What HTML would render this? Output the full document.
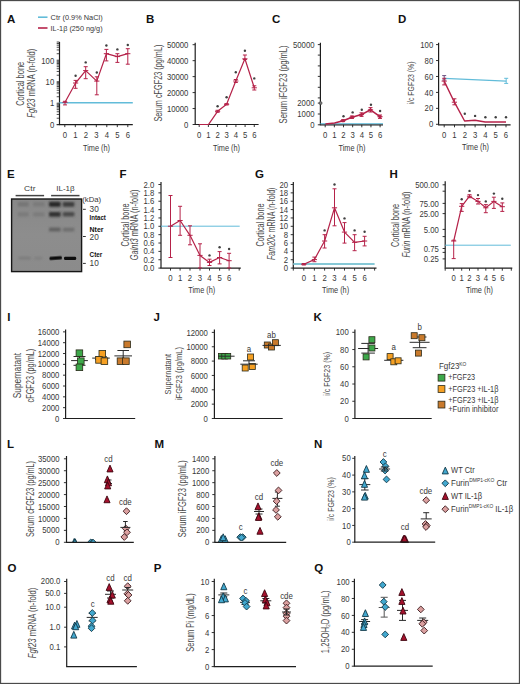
<!DOCTYPE html>
<html><head><meta charset="utf-8"><style>
html,body{margin:0;padding:0;background:#fff;}
svg{display:block;font-family:"Liberation Sans", sans-serif;}
</style></head><body>
<svg width="520" height="684" viewBox="0 0 520 684">
<rect x="0" y="0" width="520" height="684" fill="#fff"/>
<text transform="translate(7,22.5)" font-size="11.5" fill="#111" text-anchor="start" font-weight="bold">A</text>
<line x1="38" y1="17.2" x2="47.5" y2="17.2" stroke="#62bcd9" stroke-width="1.6" />
<line x1="38" y1="28" x2="47.5" y2="28" stroke="#b52249" stroke-width="1.6" />
<text transform="translate(50.6,19.9)" font-size="8" fill="#383838" text-anchor="start" textLength="52" lengthAdjust="spacingAndGlyphs">Ctr (0.9% NaCl)</text>
<text transform="translate(50.6,30.6)" font-size="8" fill="#383838" text-anchor="start" textLength="52" lengthAdjust="spacingAndGlyphs">IL-1β (250 ng/g)</text>
<line x1="59.5" y1="42" x2="59.5" y2="124.6" stroke="#1e1e1e" stroke-width="1.2" />
<line x1="56.7" y1="124.7" x2="59.5" y2="124.7" stroke="#1e1e1e" stroke-width="0.8" />
<line x1="56.7" y1="118.23" x2="59.5" y2="118.23" stroke="#1e1e1e" stroke-width="0.8" />
<line x1="56.7" y1="114.44" x2="59.5" y2="114.44" stroke="#1e1e1e" stroke-width="0.8" />
<line x1="56.7" y1="111.76" x2="59.5" y2="111.76" stroke="#1e1e1e" stroke-width="0.8" />
<line x1="56.7" y1="109.67" x2="59.5" y2="109.67" stroke="#1e1e1e" stroke-width="0.8" />
<line x1="56.7" y1="107.97" x2="59.5" y2="107.97" stroke="#1e1e1e" stroke-width="0.8" />
<line x1="56.7" y1="106.53" x2="59.5" y2="106.53" stroke="#1e1e1e" stroke-width="0.8" />
<line x1="56.7" y1="105.28" x2="59.5" y2="105.28" stroke="#1e1e1e" stroke-width="0.8" />
<line x1="56.7" y1="104.18" x2="59.5" y2="104.18" stroke="#1e1e1e" stroke-width="0.8" />
<line x1="56.7" y1="103.2" x2="59.5" y2="103.2" stroke="#1e1e1e" stroke-width="0.8" />
<line x1="56.7" y1="96.73" x2="59.5" y2="96.73" stroke="#1e1e1e" stroke-width="0.8" />
<line x1="56.7" y1="92.94" x2="59.5" y2="92.94" stroke="#1e1e1e" stroke-width="0.8" />
<line x1="56.7" y1="90.26" x2="59.5" y2="90.26" stroke="#1e1e1e" stroke-width="0.8" />
<line x1="56.7" y1="88.17" x2="59.5" y2="88.17" stroke="#1e1e1e" stroke-width="0.8" />
<line x1="56.7" y1="86.47" x2="59.5" y2="86.47" stroke="#1e1e1e" stroke-width="0.8" />
<line x1="56.7" y1="85.03" x2="59.5" y2="85.03" stroke="#1e1e1e" stroke-width="0.8" />
<line x1="56.7" y1="83.78" x2="59.5" y2="83.78" stroke="#1e1e1e" stroke-width="0.8" />
<line x1="56.7" y1="82.68" x2="59.5" y2="82.68" stroke="#1e1e1e" stroke-width="0.8" />
<line x1="56.7" y1="81.7" x2="59.5" y2="81.7" stroke="#1e1e1e" stroke-width="0.8" />
<line x1="56.7" y1="75.23" x2="59.5" y2="75.23" stroke="#1e1e1e" stroke-width="0.8" />
<line x1="56.7" y1="71.44" x2="59.5" y2="71.44" stroke="#1e1e1e" stroke-width="0.8" />
<line x1="56.7" y1="68.76" x2="59.5" y2="68.76" stroke="#1e1e1e" stroke-width="0.8" />
<line x1="56.7" y1="66.67" x2="59.5" y2="66.67" stroke="#1e1e1e" stroke-width="0.8" />
<line x1="56.7" y1="64.97" x2="59.5" y2="64.97" stroke="#1e1e1e" stroke-width="0.8" />
<line x1="56.7" y1="63.53" x2="59.5" y2="63.53" stroke="#1e1e1e" stroke-width="0.8" />
<line x1="56.7" y1="62.28" x2="59.5" y2="62.28" stroke="#1e1e1e" stroke-width="0.8" />
<line x1="56.7" y1="61.18" x2="59.5" y2="61.18" stroke="#1e1e1e" stroke-width="0.8" />
<line x1="56.7" y1="60.2" x2="59.5" y2="60.2" stroke="#1e1e1e" stroke-width="0.8" />
<line x1="56.7" y1="53.73" x2="59.5" y2="53.73" stroke="#1e1e1e" stroke-width="0.8" />
<line x1="56.7" y1="49.94" x2="59.5" y2="49.94" stroke="#1e1e1e" stroke-width="0.8" />
<line x1="56.7" y1="47.26" x2="59.5" y2="47.26" stroke="#1e1e1e" stroke-width="0.8" />
<line x1="56.7" y1="45.17" x2="59.5" y2="45.17" stroke="#1e1e1e" stroke-width="0.8" />
<line x1="56.7" y1="43.47" x2="59.5" y2="43.47" stroke="#1e1e1e" stroke-width="0.8" />
<line x1="56.7" y1="42.03" x2="59.5" y2="42.03" stroke="#1e1e1e" stroke-width="0.8" />
<line x1="56.7" y1="124.6" x2="59.5" y2="124.6" stroke="#1e1e1e" stroke-width="0.8" />
<text transform="translate(54.2,63.5) scale(0.9,1)" font-size="8.6" fill="#383838" text-anchor="end">100</text>
<text transform="translate(54.2,84.9) scale(0.9,1)" font-size="8.6" fill="#383838" text-anchor="end">10</text>
<text transform="translate(54.2,106.3) scale(0.9,1)" font-size="8.6" fill="#383838" text-anchor="end">1</text>
<text transform="translate(54.2,127.5) scale(0.9,1)" font-size="8.6" fill="#383838" text-anchor="end">0</text>
<line x1="58.9" y1="124.6" x2="132.8" y2="124.6" stroke="#1e1e1e" stroke-width="1.2" />
<line x1="64.8" y1="124.6" x2="64.8" y2="127.1" stroke="#1e1e1e" stroke-width="0.9" />
<text transform="translate(64.8,137.5) scale(0.9,1)" font-size="8.6" fill="#383838" text-anchor="middle">0</text>
<line x1="75.3" y1="124.6" x2="75.3" y2="127.1" stroke="#1e1e1e" stroke-width="0.9" />
<text transform="translate(75.3,137.5) scale(0.9,1)" font-size="8.6" fill="#383838" text-anchor="middle">1</text>
<line x1="85.8" y1="124.6" x2="85.8" y2="127.1" stroke="#1e1e1e" stroke-width="0.9" />
<text transform="translate(85.8,137.5) scale(0.9,1)" font-size="8.6" fill="#383838" text-anchor="middle">2</text>
<line x1="96.3" y1="124.6" x2="96.3" y2="127.1" stroke="#1e1e1e" stroke-width="0.9" />
<text transform="translate(96.3,137.5) scale(0.9,1)" font-size="8.6" fill="#383838" text-anchor="middle">3</text>
<line x1="106.8" y1="124.6" x2="106.8" y2="127.1" stroke="#1e1e1e" stroke-width="0.9" />
<text transform="translate(106.8,137.5) scale(0.9,1)" font-size="8.6" fill="#383838" text-anchor="middle">4</text>
<line x1="117.3" y1="124.6" x2="117.3" y2="127.1" stroke="#1e1e1e" stroke-width="0.9" />
<text transform="translate(117.3,137.5) scale(0.9,1)" font-size="8.6" fill="#383838" text-anchor="middle">5</text>
<line x1="127.8" y1="124.6" x2="127.8" y2="127.1" stroke="#1e1e1e" stroke-width="0.9" />
<text transform="translate(127.8,137.5) scale(0.9,1)" font-size="8.6" fill="#383838" text-anchor="middle">6</text>
<text transform="translate(96.5,150.8)" font-size="9.3" fill="#383838" text-anchor="middle" textLength="27" lengthAdjust="spacingAndGlyphs">Time (h)</text>
<line x1="59.5" y1="102.8" x2="132.8" y2="102.8" stroke="#62bcd9" stroke-width="1.5" />
<polyline points="65,102.3 75.6,83 85.7,70.6 96.8,81.1 106.4,53.7 117.4,56.6 127.8,53.7" fill="none" stroke="#b52249" stroke-width="1.2" stroke-linejoin="round"/>
<line x1="65" y1="101.3" x2="65" y2="104.9" stroke="#b52249" stroke-width="1" />
<line x1="62.4" y1="102.3" x2="67.6" y2="102.3" stroke="#b52249" stroke-width="1" />
<line x1="63" y1="101.3" x2="67" y2="101.3" stroke="#b52249" stroke-width="1" />
<line x1="63" y1="104.9" x2="67" y2="104.9" stroke="#b52249" stroke-width="1" />
<line x1="75.6" y1="80.4" x2="75.6" y2="88.3" stroke="#b52249" stroke-width="1" />
<line x1="73" y1="83" x2="78.2" y2="83" stroke="#b52249" stroke-width="1" />
<line x1="73.6" y1="80.4" x2="77.6" y2="80.4" stroke="#b52249" stroke-width="1" />
<line x1="73.6" y1="88.3" x2="77.6" y2="88.3" stroke="#b52249" stroke-width="1" />
<circle cx="75.6" cy="75.8" r="1.2" fill="#404040"/>
<line x1="85.7" y1="66.7" x2="85.7" y2="78.7" stroke="#b52249" stroke-width="1" />
<line x1="83.1" y1="70.6" x2="88.3" y2="70.6" stroke="#b52249" stroke-width="1" />
<line x1="83.7" y1="66.7" x2="87.7" y2="66.7" stroke="#b52249" stroke-width="1" />
<line x1="83.7" y1="78.7" x2="87.7" y2="78.7" stroke="#b52249" stroke-width="1" />
<circle cx="85.7" cy="62.4" r="1.2" fill="#404040"/>
<line x1="96.8" y1="76.8" x2="96.8" y2="94.8" stroke="#b52249" stroke-width="1" />
<line x1="94.2" y1="81.1" x2="99.4" y2="81.1" stroke="#b52249" stroke-width="1" />
<line x1="94.8" y1="76.8" x2="98.8" y2="76.8" stroke="#b52249" stroke-width="1" />
<line x1="94.8" y1="94.8" x2="98.8" y2="94.8" stroke="#b52249" stroke-width="1" />
<circle cx="96.8" cy="72.5" r="1.2" fill="#404040"/>
<line x1="106.4" y1="49.4" x2="106.4" y2="60.9" stroke="#b52249" stroke-width="1" />
<line x1="103.8" y1="53.7" x2="109" y2="53.7" stroke="#b52249" stroke-width="1" />
<line x1="104.4" y1="49.4" x2="108.4" y2="49.4" stroke="#b52249" stroke-width="1" />
<line x1="104.4" y1="60.9" x2="108.4" y2="60.9" stroke="#b52249" stroke-width="1" />
<circle cx="106.4" cy="45.5" r="1.2" fill="#404040"/>
<line x1="117.4" y1="53.7" x2="117.4" y2="62.4" stroke="#b52249" stroke-width="1" />
<line x1="114.8" y1="56.6" x2="120" y2="56.6" stroke="#b52249" stroke-width="1" />
<line x1="115.4" y1="53.7" x2="119.4" y2="53.7" stroke="#b52249" stroke-width="1" />
<line x1="115.4" y1="62.4" x2="119.4" y2="62.4" stroke="#b52249" stroke-width="1" />
<circle cx="117.4" cy="49.4" r="1.2" fill="#404040"/>
<line x1="127.8" y1="48.7" x2="127.8" y2="64.2" stroke="#b52249" stroke-width="1" />
<line x1="125.2" y1="53.7" x2="130.4" y2="53.7" stroke="#b52249" stroke-width="1" />
<line x1="125.8" y1="48.7" x2="129.8" y2="48.7" stroke="#b52249" stroke-width="1" />
<line x1="125.8" y1="64.2" x2="129.8" y2="64.2" stroke="#b52249" stroke-width="1" />
<circle cx="127.8" cy="45" r="1.2" fill="#404040"/>
<text transform="translate(23.9,83.8) rotate(-90)" font-size="10.3" fill="#4a4a4a" text-anchor="middle" textLength="44" lengthAdjust="spacingAndGlyphs">Cortical bone</text>
<text transform="translate(34.5,83.2) rotate(-90)" font-size="10.3" fill="#4a4a4a" text-anchor="middle" textLength="69" lengthAdjust="spacingAndGlyphs"><tspan font-style="italic">Fgf23</tspan> mRNA (n-fold)</text>
<text transform="translate(146,22.5)" font-size="11.5" fill="#111" text-anchor="start" font-weight="bold">B</text>
<line x1="195.2" y1="42.7" x2="195.2" y2="124.5" stroke="#1e1e1e" stroke-width="1.2" />
<line x1="192.6" y1="124.5" x2="195.2" y2="124.5" stroke="#1e1e1e" stroke-width="0.9" />
<text transform="translate(188.4,127.6) scale(0.9,1)" font-size="8.6" fill="#383838" text-anchor="end">0</text>
<line x1="192.6" y1="108.54" x2="195.2" y2="108.54" stroke="#1e1e1e" stroke-width="0.9" />
<text transform="translate(188.4,111.64) scale(0.9,1)" font-size="8.6" fill="#383838" text-anchor="end">10000</text>
<line x1="192.6" y1="92.58" x2="195.2" y2="92.58" stroke="#1e1e1e" stroke-width="0.9" />
<text transform="translate(188.4,95.68) scale(0.9,1)" font-size="8.6" fill="#383838" text-anchor="end">20000</text>
<line x1="192.6" y1="76.62" x2="195.2" y2="76.62" stroke="#1e1e1e" stroke-width="0.9" />
<text transform="translate(188.4,79.72) scale(0.9,1)" font-size="8.6" fill="#383838" text-anchor="end">30000</text>
<line x1="192.6" y1="60.66" x2="195.2" y2="60.66" stroke="#1e1e1e" stroke-width="0.9" />
<text transform="translate(188.4,63.76) scale(0.9,1)" font-size="8.6" fill="#383838" text-anchor="end">40000</text>
<line x1="192.6" y1="44.7" x2="195.2" y2="44.7" stroke="#1e1e1e" stroke-width="0.9" />
<text transform="translate(188.4,47.8) scale(0.9,1)" font-size="8.6" fill="#383838" text-anchor="end">50000</text>
<line x1="194.6" y1="124.5" x2="258.6" y2="124.5" stroke="#1e1e1e" stroke-width="1.2" />
<line x1="199.2" y1="124.5" x2="199.2" y2="127" stroke="#1e1e1e" stroke-width="0.9" />
<text transform="translate(199.2,137.7) scale(0.9,1)" font-size="8.6" fill="#383838" text-anchor="middle">0</text>
<line x1="208.38" y1="124.5" x2="208.38" y2="127" stroke="#1e1e1e" stroke-width="0.9" />
<text transform="translate(208.38,137.7) scale(0.9,1)" font-size="8.6" fill="#383838" text-anchor="middle">1</text>
<line x1="217.56" y1="124.5" x2="217.56" y2="127" stroke="#1e1e1e" stroke-width="0.9" />
<text transform="translate(217.56,137.7) scale(0.9,1)" font-size="8.6" fill="#383838" text-anchor="middle">2</text>
<line x1="226.74" y1="124.5" x2="226.74" y2="127" stroke="#1e1e1e" stroke-width="0.9" />
<text transform="translate(226.74,137.7) scale(0.9,1)" font-size="8.6" fill="#383838" text-anchor="middle">3</text>
<line x1="235.92" y1="124.5" x2="235.92" y2="127" stroke="#1e1e1e" stroke-width="0.9" />
<text transform="translate(235.92,137.7) scale(0.9,1)" font-size="8.6" fill="#383838" text-anchor="middle">4</text>
<line x1="245.1" y1="124.5" x2="245.1" y2="127" stroke="#1e1e1e" stroke-width="0.9" />
<text transform="translate(245.1,137.7) scale(0.9,1)" font-size="8.6" fill="#383838" text-anchor="middle">5</text>
<line x1="254.28" y1="124.5" x2="254.28" y2="127" stroke="#1e1e1e" stroke-width="0.9" />
<text transform="translate(254.28,137.7) scale(0.9,1)" font-size="8.6" fill="#383838" text-anchor="middle">6</text>
<text transform="translate(226.5,150.8)" font-size="9.3" fill="#383838" text-anchor="middle" textLength="27" lengthAdjust="spacingAndGlyphs">Time (h)</text>
<polyline points="199.2,124.5 208.6,124.3 217.6,111.3 226.6,104.3 235.8,81 244.9,58.8 254.3,87.8" fill="none" stroke="#b52249" stroke-width="1.2" stroke-linejoin="round"/>
<line x1="217.6" y1="110.3" x2="217.6" y2="112.3" stroke="#b52249" stroke-width="1" />
<line x1="215" y1="111.3" x2="220.2" y2="111.3" stroke="#b52249" stroke-width="1" />
<line x1="215.6" y1="110.3" x2="219.6" y2="110.3" stroke="#b52249" stroke-width="1" />
<line x1="215.6" y1="112.3" x2="219.6" y2="112.3" stroke="#b52249" stroke-width="1" />
<circle cx="217.6" cy="106.2" r="1.2" fill="#404040"/>
<line x1="226.6" y1="103.6" x2="226.6" y2="105" stroke="#b52249" stroke-width="1" />
<line x1="224" y1="104.3" x2="229.2" y2="104.3" stroke="#b52249" stroke-width="1" />
<line x1="224.6" y1="103.6" x2="228.6" y2="103.6" stroke="#b52249" stroke-width="1" />
<line x1="224.6" y1="105" x2="228.6" y2="105" stroke="#b52249" stroke-width="1" />
<circle cx="226.6" cy="97.2" r="1.2" fill="#404040"/>
<line x1="235.8" y1="79.5" x2="235.8" y2="82.5" stroke="#b52249" stroke-width="1" />
<line x1="233.2" y1="81" x2="238.4" y2="81" stroke="#b52249" stroke-width="1" />
<line x1="233.8" y1="79.5" x2="237.8" y2="79.5" stroke="#b52249" stroke-width="1" />
<line x1="233.8" y1="82.5" x2="237.8" y2="82.5" stroke="#b52249" stroke-width="1" />
<circle cx="235.8" cy="72.3" r="1.2" fill="#404040"/>
<line x1="244.9" y1="55" x2="244.9" y2="59.5" stroke="#b52249" stroke-width="1" />
<line x1="242.3" y1="58.8" x2="247.5" y2="58.8" stroke="#b52249" stroke-width="1" />
<line x1="242.9" y1="55" x2="246.9" y2="55" stroke="#b52249" stroke-width="1" />
<line x1="242.9" y1="59.5" x2="246.9" y2="59.5" stroke="#b52249" stroke-width="1" />
<circle cx="244.9" cy="50.8" r="1.2" fill="#404040"/>
<line x1="254.3" y1="85.8" x2="254.3" y2="90" stroke="#b52249" stroke-width="1" />
<line x1="251.7" y1="87.8" x2="256.9" y2="87.8" stroke="#b52249" stroke-width="1" />
<line x1="252.3" y1="85.8" x2="256.3" y2="85.8" stroke="#b52249" stroke-width="1" />
<line x1="252.3" y1="90" x2="256.3" y2="90" stroke="#b52249" stroke-width="1" />
<circle cx="254.3" cy="78.4" r="1.2" fill="#404040"/>
<text transform="translate(161.5,83.1) rotate(-90)" font-size="10.3" fill="#4a4a4a" text-anchor="middle" textLength="77" lengthAdjust="spacingAndGlyphs">Serum cFGF23 (pg/mL)</text>
<text transform="translate(272,22.5)" font-size="11.5" fill="#111" text-anchor="start" font-weight="bold">C</text>
<line x1="320.4" y1="42.7" x2="320.4" y2="124.8" stroke="#1e1e1e" stroke-width="1.2" />
<line x1="317.8" y1="44.6" x2="320.4" y2="44.6" stroke="#1e1e1e" stroke-width="0.9" />
<line x1="317.8" y1="55.1" x2="320.4" y2="55.1" stroke="#1e1e1e" stroke-width="0.9" />
<line x1="317.8" y1="65.9" x2="320.4" y2="65.9" stroke="#1e1e1e" stroke-width="0.9" />
<line x1="317.8" y1="76.4" x2="320.4" y2="76.4" stroke="#1e1e1e" stroke-width="0.9" />
<line x1="317.8" y1="87.3" x2="320.4" y2="87.3" stroke="#1e1e1e" stroke-width="0.9" />
<line x1="317.8" y1="97.9" x2="320.4" y2="97.9" stroke="#1e1e1e" stroke-width="0.9" />
<line x1="317.8" y1="103.1" x2="320.4" y2="103.1" stroke="#1e1e1e" stroke-width="0.9" />
<line x1="317.8" y1="114" x2="320.4" y2="114" stroke="#1e1e1e" stroke-width="0.9" />
<line x1="317.8" y1="124.8" x2="320.4" y2="124.8" stroke="#1e1e1e" stroke-width="0.9" />
<text transform="translate(314.5,47.7) scale(0.9,1)" font-size="8.6" fill="#383838" text-anchor="end">50000</text>
<text transform="translate(314.5,106.2) scale(0.9,1)" font-size="8.6" fill="#383838" text-anchor="end">2000</text>
<text transform="translate(314.5,117.1) scale(0.9,1)" font-size="8.6" fill="#383838" text-anchor="end">1000</text>
<text transform="translate(314.5,127.9) scale(0.9,1)" font-size="8.6" fill="#383838" text-anchor="end">0</text>
<circle cx="320.6" cy="103.1" r="1.5" fill="#777" stroke="#444" stroke-width="0.6"/>
<line x1="319.8" y1="124.8" x2="383" y2="124.8" stroke="#1e1e1e" stroke-width="1.2" />
<line x1="320.4" y1="123.7" x2="383" y2="123.7" stroke="#62bcd9" stroke-width="1" />
<line x1="325.2" y1="124.8" x2="325.2" y2="127.3" stroke="#1e1e1e" stroke-width="0.9" />
<text transform="translate(325.2,137.7) scale(0.9,1)" font-size="8.6" fill="#383838" text-anchor="middle">0</text>
<line x1="334.35" y1="124.8" x2="334.35" y2="127.3" stroke="#1e1e1e" stroke-width="0.9" />
<text transform="translate(334.35,137.7) scale(0.9,1)" font-size="8.6" fill="#383838" text-anchor="middle">1</text>
<line x1="343.5" y1="124.8" x2="343.5" y2="127.3" stroke="#1e1e1e" stroke-width="0.9" />
<text transform="translate(343.5,137.7) scale(0.9,1)" font-size="8.6" fill="#383838" text-anchor="middle">2</text>
<line x1="352.65" y1="124.8" x2="352.65" y2="127.3" stroke="#1e1e1e" stroke-width="0.9" />
<text transform="translate(352.65,137.7) scale(0.9,1)" font-size="8.6" fill="#383838" text-anchor="middle">3</text>
<line x1="361.8" y1="124.8" x2="361.8" y2="127.3" stroke="#1e1e1e" stroke-width="0.9" />
<text transform="translate(361.8,137.7) scale(0.9,1)" font-size="8.6" fill="#383838" text-anchor="middle">4</text>
<line x1="370.95" y1="124.8" x2="370.95" y2="127.3" stroke="#1e1e1e" stroke-width="0.9" />
<text transform="translate(370.95,137.7) scale(0.9,1)" font-size="8.6" fill="#383838" text-anchor="middle">5</text>
<line x1="380.1" y1="124.8" x2="380.1" y2="127.3" stroke="#1e1e1e" stroke-width="0.9" />
<text transform="translate(380.1,137.7) scale(0.9,1)" font-size="8.6" fill="#383838" text-anchor="middle">6</text>
<text transform="translate(352,150.8)" font-size="9.3" fill="#383838" text-anchor="middle" textLength="27" lengthAdjust="spacingAndGlyphs">Time (h)</text>
<polyline points="325.4,124 334.6,123 343,120.7 352,117.2 361.5,114.6 370.5,109.8 380,116.7" fill="none" stroke="#b52249" stroke-width="1.6" stroke-linejoin="round"/>
<line x1="343" y1="119.8" x2="343" y2="121.6" stroke="#b52249" stroke-width="1" />
<line x1="340.4" y1="120.7" x2="345.6" y2="120.7" stroke="#b52249" stroke-width="1" />
<line x1="341" y1="119.8" x2="345" y2="119.8" stroke="#b52249" stroke-width="1" />
<line x1="341" y1="121.6" x2="345" y2="121.6" stroke="#b52249" stroke-width="1" />
<circle cx="343" cy="120.7" r="1.6" fill="#b52249"/>
<line x1="352" y1="116" x2="352" y2="118.4" stroke="#b52249" stroke-width="1" />
<line x1="349.4" y1="117.2" x2="354.6" y2="117.2" stroke="#b52249" stroke-width="1" />
<line x1="350" y1="116" x2="354" y2="116" stroke="#b52249" stroke-width="1" />
<line x1="350" y1="118.4" x2="354" y2="118.4" stroke="#b52249" stroke-width="1" />
<circle cx="352" cy="117.2" r="1.6" fill="#b52249"/>
<line x1="361.5" y1="112.8" x2="361.5" y2="116.4" stroke="#b52249" stroke-width="1" />
<line x1="358.9" y1="114.6" x2="364.1" y2="114.6" stroke="#b52249" stroke-width="1" />
<line x1="359.5" y1="112.8" x2="363.5" y2="112.8" stroke="#b52249" stroke-width="1" />
<line x1="359.5" y1="116.4" x2="363.5" y2="116.4" stroke="#b52249" stroke-width="1" />
<circle cx="361.5" cy="114.6" r="1.6" fill="#b52249"/>
<line x1="370.5" y1="107.6" x2="370.5" y2="112" stroke="#b52249" stroke-width="1" />
<line x1="367.9" y1="109.8" x2="373.1" y2="109.8" stroke="#b52249" stroke-width="1" />
<line x1="368.5" y1="107.6" x2="372.5" y2="107.6" stroke="#b52249" stroke-width="1" />
<line x1="368.5" y1="112" x2="372.5" y2="112" stroke="#b52249" stroke-width="1" />
<circle cx="370.5" cy="109.8" r="1.6" fill="#b52249"/>
<line x1="380" y1="115" x2="380" y2="118.4" stroke="#b52249" stroke-width="1" />
<line x1="377.4" y1="116.7" x2="382.6" y2="116.7" stroke="#b52249" stroke-width="1" />
<line x1="378" y1="115" x2="382" y2="115" stroke="#b52249" stroke-width="1" />
<line x1="378" y1="118.4" x2="382" y2="118.4" stroke="#b52249" stroke-width="1" />
<circle cx="380" cy="116.7" r="1.6" fill="#b52249"/>
<circle cx="343.5" cy="116.3" r="1.2" fill="#404040"/>
<circle cx="352.65" cy="112.4" r="1.2" fill="#404040"/>
<circle cx="361.8" cy="109.8" r="1.2" fill="#404040"/>
<circle cx="370.95" cy="104.7" r="1.2" fill="#404040"/>
<circle cx="380.1" cy="111" r="1.2" fill="#404040"/>
<text transform="translate(287.2,84.4) rotate(-90)" font-size="10.3" fill="#4a4a4a" text-anchor="middle" textLength="78" lengthAdjust="spacingAndGlyphs">Serum iFGF23 (pg/mL)</text>
<text transform="translate(398,22.5)" font-size="11.5" fill="#111" text-anchor="start" font-weight="bold">D</text>
<line x1="438.6" y1="42.7" x2="438.6" y2="124.8" stroke="#1e1e1e" stroke-width="1.2" />
<line x1="436" y1="124.3" x2="438.6" y2="124.3" stroke="#1e1e1e" stroke-width="0.9" />
<text transform="translate(433.2,127.4) scale(0.9,1)" font-size="8.6" fill="#383838" text-anchor="end">0</text>
<line x1="436" y1="108.36" x2="438.6" y2="108.36" stroke="#1e1e1e" stroke-width="0.9" />
<text transform="translate(433.2,111.46) scale(0.9,1)" font-size="8.6" fill="#383838" text-anchor="end">20</text>
<line x1="436" y1="92.42" x2="438.6" y2="92.42" stroke="#1e1e1e" stroke-width="0.9" />
<text transform="translate(433.2,95.52) scale(0.9,1)" font-size="8.6" fill="#383838" text-anchor="end">40</text>
<line x1="436" y1="76.48" x2="438.6" y2="76.48" stroke="#1e1e1e" stroke-width="0.9" />
<text transform="translate(433.2,79.58) scale(0.9,1)" font-size="8.6" fill="#383838" text-anchor="end">60</text>
<line x1="436" y1="60.54" x2="438.6" y2="60.54" stroke="#1e1e1e" stroke-width="0.9" />
<text transform="translate(433.2,63.64) scale(0.9,1)" font-size="8.6" fill="#383838" text-anchor="end">80</text>
<line x1="436" y1="44.6" x2="438.6" y2="44.6" stroke="#1e1e1e" stroke-width="0.9" />
<text transform="translate(433.2,47.7) scale(0.9,1)" font-size="8.6" fill="#383838" text-anchor="end">100</text>
<line x1="438" y1="124.8" x2="510.6" y2="124.8" stroke="#1e1e1e" stroke-width="1.2" />
<line x1="444.2" y1="124.8" x2="444.2" y2="127.3" stroke="#1e1e1e" stroke-width="0.9" />
<text transform="translate(444.2,138) scale(0.9,1)" font-size="8.6" fill="#383838" text-anchor="middle">0</text>
<line x1="454.5" y1="124.8" x2="454.5" y2="127.3" stroke="#1e1e1e" stroke-width="0.9" />
<text transform="translate(454.5,138) scale(0.9,1)" font-size="8.6" fill="#383838" text-anchor="middle">1</text>
<line x1="464.8" y1="124.8" x2="464.8" y2="127.3" stroke="#1e1e1e" stroke-width="0.9" />
<text transform="translate(464.8,138) scale(0.9,1)" font-size="8.6" fill="#383838" text-anchor="middle">2</text>
<line x1="475.1" y1="124.8" x2="475.1" y2="127.3" stroke="#1e1e1e" stroke-width="0.9" />
<text transform="translate(475.1,138) scale(0.9,1)" font-size="8.6" fill="#383838" text-anchor="middle">3</text>
<line x1="485.4" y1="124.8" x2="485.4" y2="127.3" stroke="#1e1e1e" stroke-width="0.9" />
<text transform="translate(485.4,138) scale(0.9,1)" font-size="8.6" fill="#383838" text-anchor="middle">4</text>
<line x1="495.7" y1="124.8" x2="495.7" y2="127.3" stroke="#1e1e1e" stroke-width="0.9" />
<text transform="translate(495.7,138) scale(0.9,1)" font-size="8.6" fill="#383838" text-anchor="middle">5</text>
<line x1="506" y1="124.8" x2="506" y2="127.3" stroke="#1e1e1e" stroke-width="0.9" />
<text transform="translate(506,138) scale(0.9,1)" font-size="8.6" fill="#383838" text-anchor="middle">6</text>
<text transform="translate(475.5,150.2)" font-size="9.3" fill="#383838" text-anchor="middle" textLength="27" lengthAdjust="spacingAndGlyphs">Time (h)</text>
<line x1="444.2" y1="78.3" x2="506.2" y2="81.1" stroke="#62bcd9" stroke-width="1.2" />
<line x1="444.2" y1="75.6" x2="444.2" y2="80" stroke="#6a4f80" stroke-width="1" />
<line x1="442.2" y1="75.6" x2="446.2" y2="75.6" stroke="#6a4f80" stroke-width="1" />
<line x1="442.2" y1="80" x2="446.2" y2="80" stroke="#6a4f80" stroke-width="1" />
<line x1="506.2" y1="78.3" x2="506.2" y2="83.4" stroke="#62bcd9" stroke-width="1" />
<line x1="504.2" y1="78.3" x2="508.2" y2="78.3" stroke="#62bcd9" stroke-width="1" />
<line x1="504.2" y1="83.4" x2="508.2" y2="83.4" stroke="#62bcd9" stroke-width="1" />
<polyline points="444.2,81.1 454.4,102.2 464.6,121 475,120.3 485.2,122 495.5,122 506,122" fill="none" stroke="#b52249" stroke-width="1.4" stroke-linejoin="round"/>
<line x1="444.2" y1="78.3" x2="444.2" y2="84.9" stroke="#b52249" stroke-width="1" />
<line x1="441.6" y1="81.1" x2="446.8" y2="81.1" stroke="#b52249" stroke-width="1" />
<line x1="442.2" y1="78.3" x2="446.2" y2="78.3" stroke="#b52249" stroke-width="1" />
<line x1="442.2" y1="84.9" x2="446.2" y2="84.9" stroke="#b52249" stroke-width="1" />
<line x1="454.4" y1="98.8" x2="454.4" y2="104.8" stroke="#b52249" stroke-width="1" />
<line x1="451.8" y1="102.2" x2="457" y2="102.2" stroke="#b52249" stroke-width="1" />
<line x1="452.4" y1="98.8" x2="456.4" y2="98.8" stroke="#b52249" stroke-width="1" />
<line x1="452.4" y1="104.8" x2="456.4" y2="104.8" stroke="#b52249" stroke-width="1" />
<circle cx="464.8" cy="113.7" r="1.2" fill="#404040"/>
<circle cx="475.1" cy="115.9" r="1.2" fill="#404040"/>
<circle cx="485.4" cy="117.2" r="1.2" fill="#404040"/>
<circle cx="495.7" cy="117.2" r="1.2" fill="#404040"/>
<circle cx="506" cy="117.2" r="1.2" fill="#404040"/>
<text transform="translate(413.7,83) rotate(-90)" font-size="8.8" fill="#4a4a4a" text-anchor="middle" textLength="43" lengthAdjust="spacingAndGlyphs">i/c FGF23 (%)</text>
<text transform="translate(7,177.5)" font-size="11.5" fill="#111" text-anchor="start" font-weight="bold">E</text>
<text transform="translate(29.8,191.2)" font-size="7.9" fill="#3a3a3a" text-anchor="middle" textLength="11.4" lengthAdjust="spacingAndGlyphs">Ctr</text>
<text transform="translate(65.4,191.2)" font-size="7.9" fill="#3a3a3a" text-anchor="middle" textLength="18.4" lengthAdjust="spacingAndGlyphs">IL-1β</text>
<line x1="15.6" y1="195.6" x2="44.1" y2="195.6" stroke="#444" stroke-width="1.5" />
<line x1="51.1" y1="195.6" x2="79.5" y2="195.6" stroke="#444" stroke-width="1.5" />
<defs><filter id="bl" x="-30%" y="-100%" width="160%" height="300%"><feGaussianBlur stdDeviation="0.9"/></filter><filter id="bl2" x="-30%" y="-30%" width="160%" height="160%"><feGaussianBlur stdDeviation="2.5"/></filter><linearGradient id="gb" x1="0" y1="0" x2="0" y2="1"><stop offset="0" stop-color="#888888"/><stop offset="0.5" stop-color="#8d8d8d"/><stop offset="1" stop-color="#8b8b8b"/></linearGradient></defs>
<rect x="11.6" y="199" width="69.4" height="72.6" fill="url(#gb)"/>
<rect x="11.6" y="199" width="70" height="72.6" fill="none" stroke="#161616" stroke-width="1.4"/>
<defs><filter id="b8" x="-50%" y="-100%" width="200%" height="300%"><feGaussianBlur stdDeviation="0.8"/></filter><filter id="b12" x="-50%" y="-100%" width="200%" height="300%"><feGaussianBlur stdDeviation="1.2"/></filter><filter id="b6" x="-50%" y="-100%" width="200%" height="300%"><feGaussianBlur stdDeviation="0.6"/></filter></defs>
<rect x="17.8" y="202" width="10.9" height="4.6" rx="1.2" fill="#767676" filter="url(#b12)"/>
<rect x="33" y="202" width="11.6" height="4.6" rx="1.2" fill="#7a7a7a" filter="url(#b12)"/>
<rect x="49" y="201.8" width="11.6" height="5" rx="1.2" fill="#262626" filter="url(#b8)"/>
<rect x="62.8" y="201.9" width="11.6" height="4.8" rx="1.2" fill="#3c3c3c" filter="url(#b8)"/>
<rect x="17.8" y="212.2" width="10.9" height="4.2" rx="1.2" fill="#7a7a7a" filter="url(#b12)"/>
<rect x="33" y="212.2" width="11.6" height="4.2" rx="1.2" fill="#7c7c7c" filter="url(#b12)"/>
<rect x="49" y="211.9" width="11.6" height="4.8" rx="1.2" fill="#303030" filter="url(#b8)"/>
<rect x="62.8" y="212.1" width="11.6" height="4.4" rx="1.2" fill="#4c4c4c" filter="url(#b8)"/>
<rect x="49" y="227.6" width="11.6" height="4" rx="1.2" fill="#626262" filter="url(#b12)"/>
<rect x="62.8" y="227.7" width="11.6" height="3.8" rx="1.2" fill="#6e6e6e" filter="url(#b12)"/>
<rect x="18.3" y="256.8" width="12.5" height="2.8" rx="1.2" fill="#7c7c7c" filter="url(#b12)"/>
<rect x="34.2" y="256.8" width="8.3" height="2.8" rx="1.2" fill="#808080" filter="url(#b12)"/>
<rect x="49.5" y="256.5" width="12.4" height="3.2" rx="1.2" fill="#0c0c0c" filter="url(#b6)" transform="rotate(-4 55.7 258.1)"/>
<rect x="64" y="256.8" width="12.2" height="3.2" rx="1.2" fill="#101010" filter="url(#b6)"/>
<text transform="translate(82.2,202.2)" font-size="7.8" fill="#383838" text-anchor="start" textLength="19" lengthAdjust="spacingAndGlyphs">(kDa)</text>
<line x1="83" y1="209.3" x2="85.8" y2="209.3" stroke="#333" stroke-width="1" />
<text transform="translate(89.6,212.3) scale(0.96,1)" font-size="8.6" fill="#383838" text-anchor="start">30</text>
<line x1="83" y1="236.5" x2="85.8" y2="236.5" stroke="#333" stroke-width="1" />
<text transform="translate(89.6,239.5) scale(0.96,1)" font-size="8.6" fill="#383838" text-anchor="start">20</text>
<line x1="83" y1="263.4" x2="85.8" y2="263.4" stroke="#333" stroke-width="1" />
<text transform="translate(89.6,266.4) scale(0.96,1)" font-size="8.6" fill="#383838" text-anchor="start">10</text>
<text transform="translate(89.6,219.8)" font-size="6.4" fill="#111" text-anchor="start" font-weight="bold" textLength="16.2" lengthAdjust="spacingAndGlyphs">Intact</text>
<text transform="translate(89.6,231.9)" font-size="6.4" fill="#111" text-anchor="start" font-weight="bold" textLength="13.9" lengthAdjust="spacingAndGlyphs">Nter</text>
<text transform="translate(89.6,257.4)" font-size="6.4" fill="#111" text-anchor="start" font-weight="bold" textLength="12.7" lengthAdjust="spacingAndGlyphs">Cter</text>
<text transform="translate(119.5,177.5)" font-size="11.5" fill="#111" text-anchor="start" font-weight="bold">F</text>
<line x1="161" y1="182" x2="161" y2="268.1" stroke="#1e1e1e" stroke-width="1.2" />
<line x1="158.4" y1="268.1" x2="161" y2="268.1" stroke="#1e1e1e" stroke-width="0.9" />
<text transform="translate(154.3,271.2) scale(0.9,1)" font-size="8.6" fill="#383838" text-anchor="end">0.0</text>
<line x1="158.4" y1="259.74" x2="161" y2="259.74" stroke="#1e1e1e" stroke-width="0.9" />
<text transform="translate(154.3,262.84) scale(0.9,1)" font-size="8.6" fill="#383838" text-anchor="end">0.2</text>
<line x1="158.4" y1="251.38" x2="161" y2="251.38" stroke="#1e1e1e" stroke-width="0.9" />
<text transform="translate(154.3,254.48) scale(0.9,1)" font-size="8.6" fill="#383838" text-anchor="end">0.4</text>
<line x1="158.4" y1="243.02" x2="161" y2="243.02" stroke="#1e1e1e" stroke-width="0.9" />
<text transform="translate(154.3,246.12) scale(0.9,1)" font-size="8.6" fill="#383838" text-anchor="end">0.6</text>
<line x1="158.4" y1="234.66" x2="161" y2="234.66" stroke="#1e1e1e" stroke-width="0.9" />
<text transform="translate(154.3,237.76) scale(0.9,1)" font-size="8.6" fill="#383838" text-anchor="end">0.8</text>
<line x1="158.4" y1="226.3" x2="161" y2="226.3" stroke="#1e1e1e" stroke-width="0.9" />
<text transform="translate(154.3,229.4) scale(0.9,1)" font-size="8.6" fill="#383838" text-anchor="end">1.0</text>
<line x1="158.4" y1="217.94" x2="161" y2="217.94" stroke="#1e1e1e" stroke-width="0.9" />
<text transform="translate(154.3,221.04) scale(0.9,1)" font-size="8.6" fill="#383838" text-anchor="end">1.2</text>
<line x1="158.4" y1="209.58" x2="161" y2="209.58" stroke="#1e1e1e" stroke-width="0.9" />
<text transform="translate(154.3,212.68) scale(0.9,1)" font-size="8.6" fill="#383838" text-anchor="end">1.4</text>
<line x1="158.4" y1="201.22" x2="161" y2="201.22" stroke="#1e1e1e" stroke-width="0.9" />
<text transform="translate(154.3,204.32) scale(0.9,1)" font-size="8.6" fill="#383838" text-anchor="end">1.6</text>
<line x1="158.4" y1="192.86" x2="161" y2="192.86" stroke="#1e1e1e" stroke-width="0.9" />
<text transform="translate(154.3,195.96) scale(0.9,1)" font-size="8.6" fill="#383838" text-anchor="end">1.8</text>
<line x1="158.4" y1="184.5" x2="161" y2="184.5" stroke="#1e1e1e" stroke-width="0.9" />
<text transform="translate(154.3,187.6) scale(0.9,1)" font-size="8.6" fill="#383838" text-anchor="end">2.0</text>
<line x1="160.4" y1="268.1" x2="240.8" y2="268.1" stroke="#1e1e1e" stroke-width="1.2" />
<line x1="239.2" y1="268.1" x2="239.2" y2="270.6" stroke="#1e1e1e" stroke-width="0.9" />
<line x1="170.5" y1="268.1" x2="170.5" y2="270.6" stroke="#1e1e1e" stroke-width="0.9" />
<text transform="translate(170.5,280.9) scale(0.9,1)" font-size="8.6" fill="#383838" text-anchor="middle">0</text>
<line x1="180.1" y1="268.1" x2="180.1" y2="270.6" stroke="#1e1e1e" stroke-width="0.9" />
<text transform="translate(180.1,280.9) scale(0.9,1)" font-size="8.6" fill="#383838" text-anchor="middle">1</text>
<line x1="190" y1="268.1" x2="190" y2="270.6" stroke="#1e1e1e" stroke-width="0.9" />
<text transform="translate(190,280.9) scale(0.9,1)" font-size="8.6" fill="#383838" text-anchor="middle">2</text>
<line x1="200" y1="268.1" x2="200" y2="270.6" stroke="#1e1e1e" stroke-width="0.9" />
<text transform="translate(200,280.9) scale(0.9,1)" font-size="8.6" fill="#383838" text-anchor="middle">3</text>
<line x1="209.5" y1="268.1" x2="209.5" y2="270.6" stroke="#1e1e1e" stroke-width="0.9" />
<text transform="translate(209.5,280.9) scale(0.9,1)" font-size="8.6" fill="#383838" text-anchor="middle">4</text>
<line x1="219.6" y1="268.1" x2="219.6" y2="270.6" stroke="#1e1e1e" stroke-width="0.9" />
<text transform="translate(219.6,280.9) scale(0.9,1)" font-size="8.6" fill="#383838" text-anchor="middle">5</text>
<line x1="229.1" y1="268.1" x2="229.1" y2="270.6" stroke="#1e1e1e" stroke-width="0.9" />
<text transform="translate(229.1,280.9) scale(0.9,1)" font-size="8.6" fill="#383838" text-anchor="middle">6</text>
<text transform="translate(201.7,293.2)" font-size="9.3" fill="#383838" text-anchor="middle" textLength="27" lengthAdjust="spacingAndGlyphs">Time (h)</text>
<line x1="161" y1="226.2" x2="239.7" y2="226.2" stroke="#62bcd9" stroke-width="1" />
<polyline points="170.5,226.2 180.1,220.5 190,235.3 200,255.4 209.5,262.4 219.6,257.5 229.1,260.7" fill="none" stroke="#b52249" stroke-width="1.2" stroke-linejoin="round"/>
<line x1="170.5" y1="195.5" x2="170.5" y2="257.5" stroke="#b52249" stroke-width="1" />
<line x1="167.9" y1="226.2" x2="173.1" y2="226.2" stroke="#b52249" stroke-width="1" />
<line x1="168.5" y1="195.5" x2="172.5" y2="195.5" stroke="#b52249" stroke-width="1" />
<line x1="168.5" y1="257.5" x2="172.5" y2="257.5" stroke="#b52249" stroke-width="1" />
<line x1="180.1" y1="206.3" x2="180.1" y2="235.3" stroke="#b52249" stroke-width="1" />
<line x1="177.5" y1="220.5" x2="182.7" y2="220.5" stroke="#b52249" stroke-width="1" />
<line x1="178.1" y1="206.3" x2="182.1" y2="206.3" stroke="#b52249" stroke-width="1" />
<line x1="178.1" y1="235.3" x2="182.1" y2="235.3" stroke="#b52249" stroke-width="1" />
<line x1="190" y1="225.8" x2="190" y2="244.8" stroke="#b52249" stroke-width="1" />
<line x1="187.4" y1="235.3" x2="192.6" y2="235.3" stroke="#b52249" stroke-width="1" />
<line x1="188" y1="225.8" x2="192" y2="225.8" stroke="#b52249" stroke-width="1" />
<line x1="188" y1="244.8" x2="192" y2="244.8" stroke="#b52249" stroke-width="1" />
<line x1="200" y1="243.8" x2="200" y2="268" stroke="#b52249" stroke-width="1" />
<line x1="197.4" y1="255.4" x2="202.6" y2="255.4" stroke="#b52249" stroke-width="1" />
<line x1="198" y1="243.8" x2="202" y2="243.8" stroke="#b52249" stroke-width="1" />
<line x1="198" y1="268" x2="202" y2="268" stroke="#b52249" stroke-width="1" />
<line x1="209.5" y1="259.2" x2="209.5" y2="265.5" stroke="#b52249" stroke-width="1" />
<line x1="206.9" y1="262.4" x2="212.1" y2="262.4" stroke="#b52249" stroke-width="1" />
<line x1="207.5" y1="259.2" x2="211.5" y2="259.2" stroke="#b52249" stroke-width="1" />
<line x1="207.5" y1="265.5" x2="211.5" y2="265.5" stroke="#b52249" stroke-width="1" />
<line x1="219.6" y1="251.6" x2="219.6" y2="263.9" stroke="#b52249" stroke-width="1" />
<line x1="217" y1="257.5" x2="222.2" y2="257.5" stroke="#b52249" stroke-width="1" />
<line x1="217.6" y1="251.6" x2="221.6" y2="251.6" stroke="#b52249" stroke-width="1" />
<line x1="217.6" y1="263.9" x2="221.6" y2="263.9" stroke="#b52249" stroke-width="1" />
<line x1="229.1" y1="253.3" x2="229.1" y2="268" stroke="#b52249" stroke-width="1" />
<line x1="226.5" y1="260.7" x2="231.7" y2="260.7" stroke="#b52249" stroke-width="1" />
<line x1="227.1" y1="253.3" x2="231.1" y2="253.3" stroke="#b52249" stroke-width="1" />
<line x1="227.1" y1="268" x2="231.1" y2="268" stroke="#b52249" stroke-width="1" />
<circle cx="209.5" cy="255.4" r="1.2" fill="#404040"/>
<circle cx="219.6" cy="247.3" r="1.2" fill="#404040"/>
<circle cx="229.1" cy="249" r="1.2" fill="#404040"/>
<text transform="translate(128.6,225) rotate(-90)" font-size="10.3" fill="#4a4a4a" text-anchor="middle" textLength="43" lengthAdjust="spacingAndGlyphs">Cortical bone</text>
<text transform="translate(137.8,224.9) rotate(-90)" font-size="10.3" fill="#4a4a4a" text-anchor="middle" textLength="70.5" lengthAdjust="spacingAndGlyphs"><tspan font-style="italic">Galnt3</tspan> mRNA (n-fold)</text>
<text transform="translate(255,177.5)" font-size="11.5" fill="#111" text-anchor="start" font-weight="bold">G</text>
<line x1="293.3" y1="182" x2="293.3" y2="268.1" stroke="#1e1e1e" stroke-width="1.2" />
<line x1="290.7" y1="268.1" x2="293.3" y2="268.1" stroke="#1e1e1e" stroke-width="0.9" />
<text transform="translate(288,271.2) scale(0.9,1)" font-size="8.6" fill="#383838" text-anchor="end">0</text>
<line x1="290.7" y1="259.74" x2="293.3" y2="259.74" stroke="#1e1e1e" stroke-width="0.9" />
<text transform="translate(288,262.84) scale(0.9,1)" font-size="8.6" fill="#383838" text-anchor="end">2</text>
<line x1="290.7" y1="251.38" x2="293.3" y2="251.38" stroke="#1e1e1e" stroke-width="0.9" />
<text transform="translate(288,254.48) scale(0.9,1)" font-size="8.6" fill="#383838" text-anchor="end">4</text>
<line x1="290.7" y1="243.02" x2="293.3" y2="243.02" stroke="#1e1e1e" stroke-width="0.9" />
<text transform="translate(288,246.12) scale(0.9,1)" font-size="8.6" fill="#383838" text-anchor="end">6</text>
<line x1="290.7" y1="234.66" x2="293.3" y2="234.66" stroke="#1e1e1e" stroke-width="0.9" />
<text transform="translate(288,237.76) scale(0.9,1)" font-size="8.6" fill="#383838" text-anchor="end">8</text>
<line x1="290.7" y1="226.3" x2="293.3" y2="226.3" stroke="#1e1e1e" stroke-width="0.9" />
<text transform="translate(288,229.4) scale(0.9,1)" font-size="8.6" fill="#383838" text-anchor="end">10</text>
<line x1="290.7" y1="217.94" x2="293.3" y2="217.94" stroke="#1e1e1e" stroke-width="0.9" />
<text transform="translate(288,221.04) scale(0.9,1)" font-size="8.6" fill="#383838" text-anchor="end">12</text>
<line x1="290.7" y1="209.58" x2="293.3" y2="209.58" stroke="#1e1e1e" stroke-width="0.9" />
<text transform="translate(288,212.68) scale(0.9,1)" font-size="8.6" fill="#383838" text-anchor="end">14</text>
<line x1="290.7" y1="201.22" x2="293.3" y2="201.22" stroke="#1e1e1e" stroke-width="0.9" />
<text transform="translate(288,204.32) scale(0.9,1)" font-size="8.6" fill="#383838" text-anchor="end">16</text>
<line x1="290.7" y1="192.86" x2="293.3" y2="192.86" stroke="#1e1e1e" stroke-width="0.9" />
<text transform="translate(288,195.96) scale(0.9,1)" font-size="8.6" fill="#383838" text-anchor="end">18</text>
<line x1="290.7" y1="184.5" x2="293.3" y2="184.5" stroke="#1e1e1e" stroke-width="0.9" />
<text transform="translate(288,187.6) scale(0.9,1)" font-size="8.6" fill="#383838" text-anchor="end">20</text>
<line x1="292.7" y1="268.1" x2="376.5" y2="268.1" stroke="#1e1e1e" stroke-width="1.2" />
<line x1="374.6" y1="268.1" x2="374.6" y2="270.6" stroke="#1e1e1e" stroke-width="0.9" />
<line x1="293.3" y1="268.1" x2="293.3" y2="270.6" stroke="#1e1e1e" stroke-width="0.9" />
<line x1="303.8" y1="268.1" x2="303.8" y2="270.6" stroke="#1e1e1e" stroke-width="0.9" />
<text transform="translate(303.8,280.9) scale(0.9,1)" font-size="8.6" fill="#383838" text-anchor="middle">0</text>
<line x1="314.4" y1="268.1" x2="314.4" y2="270.6" stroke="#1e1e1e" stroke-width="0.9" />
<text transform="translate(314.4,280.9) scale(0.9,1)" font-size="8.6" fill="#383838" text-anchor="middle">1</text>
<line x1="324.6" y1="268.1" x2="324.6" y2="270.6" stroke="#1e1e1e" stroke-width="0.9" />
<text transform="translate(324.6,280.9) scale(0.9,1)" font-size="8.6" fill="#383838" text-anchor="middle">2</text>
<line x1="334.5" y1="268.1" x2="334.5" y2="270.6" stroke="#1e1e1e" stroke-width="0.9" />
<text transform="translate(334.5,280.9) scale(0.9,1)" font-size="8.6" fill="#383838" text-anchor="middle">3</text>
<line x1="344.5" y1="268.1" x2="344.5" y2="270.6" stroke="#1e1e1e" stroke-width="0.9" />
<text transform="translate(344.5,280.9) scale(0.9,1)" font-size="8.6" fill="#383838" text-anchor="middle">4</text>
<line x1="354.6" y1="268.1" x2="354.6" y2="270.6" stroke="#1e1e1e" stroke-width="0.9" />
<text transform="translate(354.6,280.9) scale(0.9,1)" font-size="8.6" fill="#383838" text-anchor="middle">5</text>
<line x1="364.6" y1="268.1" x2="364.6" y2="270.6" stroke="#1e1e1e" stroke-width="0.9" />
<text transform="translate(364.6,280.9) scale(0.9,1)" font-size="8.6" fill="#383838" text-anchor="middle">6</text>
<text transform="translate(335.6,293.2)" font-size="9.3" fill="#383838" text-anchor="middle" textLength="27" lengthAdjust="spacingAndGlyphs">Time (h)</text>
<line x1="293.3" y1="264.1" x2="374.6" y2="264.1" stroke="#86c8d6" stroke-width="2" />
<polyline points="303.8,264.3 314.4,259.6 324.6,241 334.5,207.8 344.5,232.1 354.6,242.3 364.6,241" fill="none" stroke="#b52249" stroke-width="1.2" stroke-linejoin="round"/>
<line x1="303.8" y1="263.5" x2="303.8" y2="265" stroke="#b52249" stroke-width="1" />
<line x1="301.2" y1="264.3" x2="306.4" y2="264.3" stroke="#b52249" stroke-width="1" />
<line x1="301.8" y1="263.5" x2="305.8" y2="263.5" stroke="#b52249" stroke-width="1" />
<line x1="301.8" y1="265" x2="305.8" y2="265" stroke="#b52249" stroke-width="1" />
<line x1="314.4" y1="257.1" x2="314.4" y2="261.7" stroke="#b52249" stroke-width="1" />
<line x1="311.8" y1="259.6" x2="317" y2="259.6" stroke="#b52249" stroke-width="1" />
<line x1="312.4" y1="257.1" x2="316.4" y2="257.1" stroke="#b52249" stroke-width="1" />
<line x1="312.4" y1="261.7" x2="316.4" y2="261.7" stroke="#b52249" stroke-width="1" />
<line x1="324.6" y1="234.7" x2="324.6" y2="248" stroke="#b52249" stroke-width="1" />
<line x1="322" y1="241" x2="327.2" y2="241" stroke="#b52249" stroke-width="1" />
<line x1="322.6" y1="234.7" x2="326.6" y2="234.7" stroke="#b52249" stroke-width="1" />
<line x1="322.6" y1="248" x2="326.6" y2="248" stroke="#b52249" stroke-width="1" />
<line x1="334.5" y1="188.8" x2="334.5" y2="225.8" stroke="#b52249" stroke-width="1" />
<line x1="331.9" y1="207.8" x2="337.1" y2="207.8" stroke="#b52249" stroke-width="1" />
<line x1="332.5" y1="188.8" x2="336.5" y2="188.8" stroke="#b52249" stroke-width="1" />
<line x1="332.5" y1="225.8" x2="336.5" y2="225.8" stroke="#b52249" stroke-width="1" />
<line x1="344.5" y1="222.6" x2="344.5" y2="243.1" stroke="#b52249" stroke-width="1" />
<line x1="341.9" y1="232.1" x2="347.1" y2="232.1" stroke="#b52249" stroke-width="1" />
<line x1="342.5" y1="222.6" x2="346.5" y2="222.6" stroke="#b52249" stroke-width="1" />
<line x1="342.5" y1="243.1" x2="346.5" y2="243.1" stroke="#b52249" stroke-width="1" />
<line x1="354.6" y1="234.7" x2="354.6" y2="250.7" stroke="#b52249" stroke-width="1" />
<line x1="352" y1="242.3" x2="357.2" y2="242.3" stroke="#b52249" stroke-width="1" />
<line x1="352.6" y1="234.7" x2="356.6" y2="234.7" stroke="#b52249" stroke-width="1" />
<line x1="352.6" y1="250.7" x2="356.6" y2="250.7" stroke="#b52249" stroke-width="1" />
<line x1="364.6" y1="236.3" x2="364.6" y2="245.9" stroke="#b52249" stroke-width="1" />
<line x1="362" y1="241" x2="367.2" y2="241" stroke="#b52249" stroke-width="1" />
<line x1="362.6" y1="236.3" x2="366.6" y2="236.3" stroke="#b52249" stroke-width="1" />
<line x1="362.6" y1="245.9" x2="366.6" y2="245.9" stroke="#b52249" stroke-width="1" />
<circle cx="324.6" cy="230.4" r="1.2" fill="#404040"/>
<circle cx="334.5" cy="184.5" r="1.2" fill="#404040"/>
<circle cx="344.5" cy="218.4" r="1.2" fill="#404040"/>
<circle cx="354.6" cy="230.4" r="1.2" fill="#404040"/>
<circle cx="364.6" cy="231.7" r="1.2" fill="#404040"/>
<text transform="translate(264,225) rotate(-90)" font-size="10.3" fill="#4a4a4a" text-anchor="middle" textLength="43" lengthAdjust="spacingAndGlyphs">Cortical bone</text>
<text transform="translate(274.8,223.8) rotate(-90)" font-size="10.3" fill="#4a4a4a" text-anchor="middle" textLength="72.5" lengthAdjust="spacingAndGlyphs"><tspan font-style="italic">Fam20c</tspan> mRNA (n-fold)</text>
<text transform="translate(389.6,177.5)" font-size="11.5" fill="#111" text-anchor="start" font-weight="bold">H</text>
<line x1="445.2" y1="181.3" x2="445.2" y2="267.7" stroke="#1e1e1e" stroke-width="1.2" />
<line x1="442.6" y1="184.8" x2="445.2" y2="184.8" stroke="#1e1e1e" stroke-width="0.9" />
<line x1="442.6" y1="191.2" x2="445.2" y2="191.2" stroke="#1e1e1e" stroke-width="0.9" />
<line x1="442.6" y1="203.4" x2="445.2" y2="203.4" stroke="#1e1e1e" stroke-width="0.9" />
<line x1="442.6" y1="213.6" x2="445.2" y2="213.6" stroke="#1e1e1e" stroke-width="0.9" />
<line x1="442.6" y1="229.4" x2="445.2" y2="229.4" stroke="#1e1e1e" stroke-width="0.9" />
<line x1="442.6" y1="236.6" x2="445.2" y2="236.6" stroke="#1e1e1e" stroke-width="0.9" />
<line x1="442.6" y1="248.5" x2="445.2" y2="248.5" stroke="#1e1e1e" stroke-width="0.9" />
<line x1="442.6" y1="252.4" x2="445.2" y2="252.4" stroke="#1e1e1e" stroke-width="0.9" />
<line x1="442.6" y1="258.9" x2="445.2" y2="258.9" stroke="#1e1e1e" stroke-width="0.9" />
<text transform="translate(438.8,187.9) scale(0.9,1)" font-size="8.6" fill="#383838" text-anchor="end">500.00</text>
<text transform="translate(438.8,206.5) scale(0.9,1)" font-size="8.6" fill="#383838" text-anchor="end">75.00</text>
<text transform="translate(438.8,216.7) scale(0.9,1)" font-size="8.6" fill="#383838" text-anchor="end">25.00</text>
<text transform="translate(438.8,232.5) scale(0.9,1)" font-size="8.6" fill="#383838" text-anchor="end">5.00</text>
<text transform="translate(438.8,251.6) scale(0.9,1)" font-size="8.6" fill="#383838" text-anchor="end">0.75</text>
<text transform="translate(438.8,262) scale(0.9,1)" font-size="8.6" fill="#383838" text-anchor="end">0.25</text>
<line x1="444.6" y1="268.2" x2="512.3" y2="268.2" stroke="#1e1e1e" stroke-width="1.2" />
<line x1="511.3" y1="268.2" x2="511.3" y2="270.7" stroke="#1e1e1e" stroke-width="0.9" />
<line x1="445.2" y1="268.2" x2="445.2" y2="270.7" stroke="#1e1e1e" stroke-width="0.9" />
<line x1="453.7" y1="268.2" x2="453.7" y2="270.7" stroke="#1e1e1e" stroke-width="0.9" />
<text transform="translate(453.7,281.2) scale(0.9,1)" font-size="8.6" fill="#383838" text-anchor="middle">0</text>
<line x1="461.7" y1="268.2" x2="461.7" y2="270.7" stroke="#1e1e1e" stroke-width="0.9" />
<text transform="translate(461.7,281.2) scale(0.9,1)" font-size="8.6" fill="#383838" text-anchor="middle">1</text>
<line x1="469.5" y1="268.2" x2="469.5" y2="270.7" stroke="#1e1e1e" stroke-width="0.9" />
<text transform="translate(469.5,281.2) scale(0.9,1)" font-size="8.6" fill="#383838" text-anchor="middle">2</text>
<line x1="478" y1="268.2" x2="478" y2="270.7" stroke="#1e1e1e" stroke-width="0.9" />
<text transform="translate(478,281.2) scale(0.9,1)" font-size="8.6" fill="#383838" text-anchor="middle">3</text>
<line x1="485.8" y1="268.2" x2="485.8" y2="270.7" stroke="#1e1e1e" stroke-width="0.9" />
<text transform="translate(485.8,281.2) scale(0.9,1)" font-size="8.6" fill="#383838" text-anchor="middle">4</text>
<line x1="493.9" y1="268.2" x2="493.9" y2="270.7" stroke="#1e1e1e" stroke-width="0.9" />
<text transform="translate(493.9,281.2) scale(0.9,1)" font-size="8.6" fill="#383838" text-anchor="middle">5</text>
<line x1="502.3" y1="268.2" x2="502.3" y2="270.7" stroke="#1e1e1e" stroke-width="0.9" />
<text transform="translate(502.3,281.2) scale(0.9,1)" font-size="8.6" fill="#383838" text-anchor="middle">6</text>
<text transform="translate(479.4,293.2)" font-size="9.3" fill="#383838" text-anchor="middle" textLength="27" lengthAdjust="spacingAndGlyphs">Time (h)</text>
<line x1="445.2" y1="245.2" x2="510.8" y2="245.2" stroke="#62bcd9" stroke-width="1" />
<polyline points="453.7,241 461.7,206.3 469.5,196.2 478,201.4 485.8,207.8 493.9,201.4 502.3,206.7" fill="none" stroke="#b52249" stroke-width="1.2" stroke-linejoin="round"/>
<line x1="453.7" y1="240.2" x2="453.7" y2="258.6" stroke="#b52249" stroke-width="1" />
<line x1="451.1" y1="241" x2="456.3" y2="241" stroke="#b52249" stroke-width="1" />
<line x1="451.7" y1="240.2" x2="455.7" y2="240.2" stroke="#b52249" stroke-width="1" />
<line x1="451.7" y1="258.6" x2="455.7" y2="258.6" stroke="#b52249" stroke-width="1" />
<line x1="461.7" y1="203.6" x2="461.7" y2="211.4" stroke="#b52249" stroke-width="1" />
<line x1="459.1" y1="206.3" x2="464.3" y2="206.3" stroke="#b52249" stroke-width="1" />
<line x1="459.7" y1="203.6" x2="463.7" y2="203.6" stroke="#b52249" stroke-width="1" />
<line x1="459.7" y1="211.4" x2="463.7" y2="211.4" stroke="#b52249" stroke-width="1" />
<line x1="469.5" y1="194.7" x2="469.5" y2="197.7" stroke="#b52249" stroke-width="1" />
<line x1="466.9" y1="196.2" x2="472.1" y2="196.2" stroke="#b52249" stroke-width="1" />
<line x1="467.5" y1="194.7" x2="471.5" y2="194.7" stroke="#b52249" stroke-width="1" />
<line x1="467.5" y1="197.7" x2="471.5" y2="197.7" stroke="#b52249" stroke-width="1" />
<line x1="478" y1="198.5" x2="478" y2="204" stroke="#b52249" stroke-width="1" />
<line x1="475.4" y1="201.4" x2="480.6" y2="201.4" stroke="#b52249" stroke-width="1" />
<line x1="476" y1="198.5" x2="480" y2="198.5" stroke="#b52249" stroke-width="1" />
<line x1="476" y1="204" x2="480" y2="204" stroke="#b52249" stroke-width="1" />
<line x1="485.8" y1="204.6" x2="485.8" y2="212.7" stroke="#b52249" stroke-width="1" />
<line x1="483.2" y1="207.8" x2="488.4" y2="207.8" stroke="#b52249" stroke-width="1" />
<line x1="483.8" y1="204.6" x2="487.8" y2="204.6" stroke="#b52249" stroke-width="1" />
<line x1="483.8" y1="212.7" x2="487.8" y2="212.7" stroke="#b52249" stroke-width="1" />
<line x1="493.9" y1="197.2" x2="493.9" y2="208.4" stroke="#b52249" stroke-width="1" />
<line x1="491.3" y1="201.4" x2="496.5" y2="201.4" stroke="#b52249" stroke-width="1" />
<line x1="491.9" y1="197.2" x2="495.9" y2="197.2" stroke="#b52249" stroke-width="1" />
<line x1="491.9" y1="208.4" x2="495.9" y2="208.4" stroke="#b52249" stroke-width="1" />
<line x1="502.3" y1="202.9" x2="502.3" y2="211.4" stroke="#b52249" stroke-width="1" />
<line x1="499.7" y1="206.7" x2="504.9" y2="206.7" stroke="#b52249" stroke-width="1" />
<line x1="500.3" y1="202.9" x2="504.3" y2="202.9" stroke="#b52249" stroke-width="1" />
<line x1="500.3" y1="211.4" x2="504.3" y2="211.4" stroke="#b52249" stroke-width="1" />
<circle cx="461.7" cy="199.3" r="1.2" fill="#404040"/>
<circle cx="469.5" cy="190.9" r="1.2" fill="#404040"/>
<circle cx="478" cy="195.1" r="1.2" fill="#404040"/>
<circle cx="485.8" cy="201.4" r="1.2" fill="#404040"/>
<circle cx="493.9" cy="193.6" r="1.2" fill="#404040"/>
<circle cx="502.3" cy="198.7" r="1.2" fill="#404040"/>
<text transform="translate(398.6,225.4) rotate(-90)" font-size="10.3" fill="#4a4a4a" text-anchor="middle" textLength="43" lengthAdjust="spacingAndGlyphs">Cortical bone</text>
<text transform="translate(409.5,224.6) rotate(-90)" font-size="10.3" fill="#4a4a4a" text-anchor="middle" textLength="66" lengthAdjust="spacingAndGlyphs"><tspan font-style="italic">Furin</tspan> mRNA (n-fold)</text>
<text transform="translate(7.2,321)" font-size="11.5" fill="#111" text-anchor="start" font-weight="bold">I</text>
<line x1="65.6" y1="329.5" x2="65.6" y2="418.5" stroke="#1e1e1e" stroke-width="1.2" />
<line x1="63" y1="418.5" x2="65.6" y2="418.5" stroke="#1e1e1e" stroke-width="0.9" />
<text transform="translate(59.3,421.6) scale(0.9,1)" font-size="8.6" fill="#383838" text-anchor="end">0</text>
<line x1="63" y1="407.67" x2="65.6" y2="407.67" stroke="#1e1e1e" stroke-width="0.9" />
<text transform="translate(59.3,410.77) scale(0.9,1)" font-size="8.6" fill="#383838" text-anchor="end">2000</text>
<line x1="63" y1="396.84" x2="65.6" y2="396.84" stroke="#1e1e1e" stroke-width="0.9" />
<text transform="translate(59.3,399.94) scale(0.9,1)" font-size="8.6" fill="#383838" text-anchor="end">4000</text>
<line x1="63" y1="386.01" x2="65.6" y2="386.01" stroke="#1e1e1e" stroke-width="0.9" />
<text transform="translate(59.3,389.11) scale(0.9,1)" font-size="8.6" fill="#383838" text-anchor="end">6000</text>
<line x1="63" y1="375.18" x2="65.6" y2="375.18" stroke="#1e1e1e" stroke-width="0.9" />
<text transform="translate(59.3,378.28) scale(0.9,1)" font-size="8.6" fill="#383838" text-anchor="end">8000</text>
<line x1="63" y1="364.35" x2="65.6" y2="364.35" stroke="#1e1e1e" stroke-width="0.9" />
<text transform="translate(59.3,367.45) scale(0.9,1)" font-size="8.6" fill="#383838" text-anchor="end">10000</text>
<line x1="63" y1="353.52" x2="65.6" y2="353.52" stroke="#1e1e1e" stroke-width="0.9" />
<text transform="translate(59.3,356.62) scale(0.9,1)" font-size="8.6" fill="#383838" text-anchor="end">12000</text>
<line x1="63" y1="342.69" x2="65.6" y2="342.69" stroke="#1e1e1e" stroke-width="0.9" />
<text transform="translate(59.3,345.79) scale(0.9,1)" font-size="8.6" fill="#383838" text-anchor="end">14000</text>
<line x1="63" y1="331.86" x2="65.6" y2="331.86" stroke="#1e1e1e" stroke-width="0.9" />
<text transform="translate(59.3,334.96) scale(0.9,1)" font-size="8.6" fill="#383838" text-anchor="end">16000</text>
<line x1="65" y1="418.5" x2="135.2" y2="418.5" stroke="#1e1e1e" stroke-width="1.2" />
<text transform="translate(21.3,375.6) rotate(-90)" font-size="10.3" fill="#4a4a4a" text-anchor="middle" textLength="45.4" lengthAdjust="spacingAndGlyphs">Supernatant</text>
<text transform="translate(33.5,375.6) rotate(-90)" font-size="10.3" fill="#4a4a4a" text-anchor="middle" textLength="53.8" lengthAdjust="spacingAndGlyphs">cFGF23 (pg/mL)</text>
<line x1="71.1" y1="360.6" x2="87.9" y2="360.6" stroke="#2a2a2a" stroke-width="1" />
<line x1="73.5" y1="356.5" x2="85.5" y2="356.5" stroke="#2a2a2a" stroke-width="1" />
<line x1="73.5" y1="365.3" x2="85.5" y2="365.3" stroke="#2a2a2a" stroke-width="1" />
<line x1="79.5" y1="356.5" x2="79.5" y2="365.3" stroke="#2a2a2a" stroke-width="1" />
<rect x="76.1" y="349.9" width="6.6" height="6.6" fill="#3da84a" stroke="#2a2a1a" stroke-width="0.8"/>
<rect x="77.5" y="357.9" width="6.6" height="6.6" fill="#3da84a" stroke="#2a2a1a" stroke-width="0.8"/>
<rect x="76.1" y="364" width="6.6" height="6.6" fill="#3da84a" stroke="#2a2a1a" stroke-width="0.8"/>
<line x1="92.2" y1="358.1" x2="109.8" y2="358.1" stroke="#2a2a2a" stroke-width="1" />
<line x1="95" y1="356.8" x2="107" y2="356.8" stroke="#2a2a2a" stroke-width="1" />
<line x1="95" y1="359.6" x2="107" y2="359.6" stroke="#2a2a2a" stroke-width="1" />
<line x1="101" y1="356.8" x2="101" y2="359.6" stroke="#2a2a2a" stroke-width="1" />
<rect x="99" y="350.5" width="6.6" height="6.6" fill="#f6a023" stroke="#2a2a1a" stroke-width="0.8"/>
<rect x="95.7" y="356.6" width="6.6" height="6.6" fill="#f6a023" stroke="#2a2a1a" stroke-width="0.8"/>
<rect x="101.1" y="357.9" width="6.6" height="6.6" fill="#f6a023" stroke="#2a2a1a" stroke-width="0.8"/>
<line x1="114.4" y1="355.9" x2="132" y2="355.9" stroke="#2a2a2a" stroke-width="1" />
<line x1="117.4" y1="350.5" x2="129" y2="350.5" stroke="#2a2a2a" stroke-width="1" />
<line x1="117.4" y1="361.2" x2="129" y2="361.2" stroke="#2a2a2a" stroke-width="1" />
<line x1="123.2" y1="350.5" x2="123.2" y2="361.2" stroke="#2a2a2a" stroke-width="1" />
<rect x="123.9" y="341.1" width="6.6" height="6.6" fill="#c97a2c" stroke="#2a2a1a" stroke-width="0.8"/>
<rect x="117.2" y="357.9" width="6.6" height="6.6" fill="#c97a2c" stroke="#2a2a1a" stroke-width="0.8"/>
<rect x="122.6" y="357.9" width="6.6" height="6.6" fill="#c97a2c" stroke="#2a2a1a" stroke-width="0.8"/>
<text transform="translate(153.5,321)" font-size="11.5" fill="#111" text-anchor="start" font-weight="bold">J</text>
<line x1="214.4" y1="329.5" x2="214.4" y2="418.5" stroke="#1e1e1e" stroke-width="1.2" />
<line x1="211.8" y1="418.5" x2="214.4" y2="418.5" stroke="#1e1e1e" stroke-width="0.9" />
<text transform="translate(207.9,421.6) scale(0.9,1)" font-size="8.6" fill="#383838" text-anchor="end">0</text>
<line x1="211.8" y1="404.15" x2="214.4" y2="404.15" stroke="#1e1e1e" stroke-width="0.9" />
<text transform="translate(207.9,407.25) scale(0.9,1)" font-size="8.6" fill="#383838" text-anchor="end">2000</text>
<line x1="211.8" y1="389.8" x2="214.4" y2="389.8" stroke="#1e1e1e" stroke-width="0.9" />
<text transform="translate(207.9,392.9) scale(0.9,1)" font-size="8.6" fill="#383838" text-anchor="end">4000</text>
<line x1="211.8" y1="375.45" x2="214.4" y2="375.45" stroke="#1e1e1e" stroke-width="0.9" />
<text transform="translate(207.9,378.55) scale(0.9,1)" font-size="8.6" fill="#383838" text-anchor="end">6000</text>
<line x1="211.8" y1="361.1" x2="214.4" y2="361.1" stroke="#1e1e1e" stroke-width="0.9" />
<text transform="translate(207.9,364.2) scale(0.9,1)" font-size="8.6" fill="#383838" text-anchor="end">8000</text>
<line x1="211.8" y1="346.75" x2="214.4" y2="346.75" stroke="#1e1e1e" stroke-width="0.9" />
<text transform="translate(207.9,349.85) scale(0.9,1)" font-size="8.6" fill="#383838" text-anchor="end">10000</text>
<line x1="211.8" y1="332.4" x2="214.4" y2="332.4" stroke="#1e1e1e" stroke-width="0.9" />
<text transform="translate(207.9,335.5) scale(0.9,1)" font-size="8.6" fill="#383838" text-anchor="end">12000</text>
<line x1="213.8" y1="418.5" x2="282.7" y2="418.5" stroke="#1e1e1e" stroke-width="1.2" />
<text transform="translate(170.6,374.3) rotate(-90)" font-size="9.8" fill="#4a4a4a" text-anchor="middle" textLength="40.5" lengthAdjust="spacingAndGlyphs">Supernatant</text>
<text transform="translate(181.6,373.6) rotate(-90)" font-size="9.8" fill="#4a4a4a" text-anchor="middle" textLength="53" lengthAdjust="spacingAndGlyphs">iFGF23 (pg/mL)</text>
<rect x="218.4" y="353.4" width="5.6" height="5.6" fill="#3da84a" stroke="#2a2a1a" stroke-width="0.8"/>
<rect x="221.8" y="353.4" width="5.6" height="5.6" fill="#3da84a" stroke="#2a2a1a" stroke-width="0.8"/>
<rect x="225.1" y="353.4" width="5.6" height="5.6" fill="#3da84a" stroke="#2a2a1a" stroke-width="0.8"/>
<line x1="218" y1="356.2" x2="234.6" y2="356.2" stroke="#2a2a2a" stroke-width="1" />
<rect x="247.6" y="354" width="6" height="6" fill="#f6a023" stroke="#2a2a1a" stroke-width="0.8"/>
<rect x="242.2" y="365" width="6" height="6" fill="#f6a023" stroke="#2a2a1a" stroke-width="0.8"/>
<rect x="249.3" y="363.5" width="6" height="6" fill="#f6a023" stroke="#2a2a1a" stroke-width="0.8"/>
<line x1="240.3" y1="364.2" x2="257.7" y2="364.2" stroke="#2a2a2a" stroke-width="1" />
<line x1="243" y1="360.8" x2="255" y2="360.8" stroke="#2a2a2a" stroke-width="1" />
<line x1="249" y1="360.8" x2="249" y2="364.2" stroke="#2a2a2a" stroke-width="1" />
<text transform="translate(249,351.7) scale(0.92,1)" font-size="8.6" fill="#383838" text-anchor="middle">a</text>
<rect x="264.3" y="342" width="6" height="6" fill="#c97a2c" stroke="#2a2a1a" stroke-width="0.8"/>
<rect x="268.5" y="344" width="6" height="6" fill="#c97a2c" stroke="#2a2a1a" stroke-width="0.8"/>
<rect x="272.4" y="339.7" width="6" height="6" fill="#c97a2c" stroke="#2a2a1a" stroke-width="0.8"/>
<line x1="262.5" y1="345.4" x2="280.8" y2="345.4" stroke="#2a2a2a" stroke-width="1" />
<text transform="translate(271.5,338.2) scale(0.92,1)" font-size="8.6" fill="#383838" text-anchor="middle">ab</text>
<text transform="translate(313.5,321)" font-size="11.5" fill="#111" text-anchor="start" font-weight="bold">K</text>
<line x1="354.9" y1="329.5" x2="354.9" y2="418.5" stroke="#1e1e1e" stroke-width="1.2" />
<line x1="352.3" y1="418.5" x2="354.9" y2="418.5" stroke="#1e1e1e" stroke-width="0.9" />
<text transform="translate(348.7,421.6) scale(0.9,1)" font-size="8.6" fill="#383838" text-anchor="end">0</text>
<line x1="352.3" y1="401.26" x2="354.9" y2="401.26" stroke="#1e1e1e" stroke-width="0.9" />
<text transform="translate(348.7,404.36) scale(0.9,1)" font-size="8.6" fill="#383838" text-anchor="end">20</text>
<line x1="352.3" y1="384.02" x2="354.9" y2="384.02" stroke="#1e1e1e" stroke-width="0.9" />
<text transform="translate(348.7,387.12) scale(0.9,1)" font-size="8.6" fill="#383838" text-anchor="end">40</text>
<line x1="352.3" y1="366.78" x2="354.9" y2="366.78" stroke="#1e1e1e" stroke-width="0.9" />
<text transform="translate(348.7,369.88) scale(0.9,1)" font-size="8.6" fill="#383838" text-anchor="end">60</text>
<line x1="352.3" y1="349.54" x2="354.9" y2="349.54" stroke="#1e1e1e" stroke-width="0.9" />
<text transform="translate(348.7,352.64) scale(0.9,1)" font-size="8.6" fill="#383838" text-anchor="end">80</text>
<line x1="352.3" y1="332.3" x2="354.9" y2="332.3" stroke="#1e1e1e" stroke-width="0.9" />
<text transform="translate(348.7,335.4) scale(0.9,1)" font-size="8.6" fill="#383838" text-anchor="end">100</text>
<line x1="354.3" y1="418.5" x2="431.7" y2="418.5" stroke="#1e1e1e" stroke-width="1.2" />
<text transform="translate(329.9,373.8) rotate(-90)" font-size="8.8" fill="#4a4a4a" text-anchor="middle" textLength="44" lengthAdjust="spacingAndGlyphs">i/c FGF23 (%)</text>
<line x1="358.1" y1="348.5" x2="378.1" y2="348.5" stroke="#2a2a2a" stroke-width="1" />
<line x1="361.3" y1="343.4" x2="374.9" y2="343.4" stroke="#2a2a2a" stroke-width="1" />
<line x1="361.3" y1="353.1" x2="374.9" y2="353.1" stroke="#2a2a2a" stroke-width="1" />
<line x1="368.1" y1="343.4" x2="368.1" y2="353.1" stroke="#2a2a2a" stroke-width="1" />
<rect x="368.9" y="336.7" width="6" height="6" fill="#3da84a" stroke="#2a2a1a" stroke-width="0.8"/>
<rect x="368.9" y="345" width="6" height="6" fill="#3da84a" stroke="#2a2a1a" stroke-width="0.8"/>
<rect x="363.1" y="353.9" width="6" height="6" fill="#3da84a" stroke="#2a2a1a" stroke-width="0.8"/>
<line x1="384.2" y1="360.3" x2="403.4" y2="360.3" stroke="#2a2a2a" stroke-width="1" />
<rect x="387.1" y="353.6" width="6" height="6" fill="#f6a023" stroke="#2a2a1a" stroke-width="0.8"/>
<rect x="390.8" y="358.8" width="6" height="6" fill="#f6a023" stroke="#2a2a1a" stroke-width="0.8"/>
<rect x="395.1" y="357.8" width="6" height="6" fill="#f6a023" stroke="#2a2a1a" stroke-width="0.8"/>
<text transform="translate(393.8,350.4) scale(0.92,1)" font-size="8.6" fill="#383838" text-anchor="middle">a</text>
<line x1="409.6" y1="342.3" x2="429.6" y2="342.3" stroke="#2a2a2a" stroke-width="1" />
<line x1="412.7" y1="347.7" x2="426.5" y2="347.7" stroke="#2a2a2a" stroke-width="1" />
<line x1="412.7" y1="337" x2="426.5" y2="337" stroke="#2a2a2a" stroke-width="1" />
<line x1="419.6" y1="337" x2="419.6" y2="347.7" stroke="#2a2a2a" stroke-width="1" />
<rect x="411.2" y="332.7" width="6" height="6" fill="#c97a2c" stroke="#2a2a1a" stroke-width="0.8"/>
<rect x="418.9" y="334.7" width="6" height="6" fill="#c97a2c" stroke="#2a2a1a" stroke-width="0.8"/>
<rect x="415.4" y="350.1" width="6" height="6" fill="#c97a2c" stroke="#2a2a1a" stroke-width="0.8"/>
<text transform="translate(419.6,330.4) scale(0.92,1)" font-size="8.6" fill="#383838" text-anchor="middle">b</text>
<text transform="translate(439,368.8)" font-size="8.3" fill="#383838" text-anchor="start" textLength="27.3" lengthAdjust="spacingAndGlyphs">Fgf23<tspan font-size="5" dy="-3.2">KO</tspan></text>
<rect x="438.1" y="374.3" width="6.8" height="6.8" fill="#3da84a" stroke="#2a2a1a" stroke-width="0.8"/>
<text transform="translate(448.2,380.4)" font-size="8.3" fill="#383838" text-anchor="start" textLength="26.8" lengthAdjust="spacingAndGlyphs">+FGF23</text>
<rect x="438.1" y="385.6" width="6.8" height="6.8" fill="#f6a023" stroke="#2a2a1a" stroke-width="0.8"/>
<text transform="translate(448.2,391.8)" font-size="8.3" fill="#383838" text-anchor="start" textLength="50.2" lengthAdjust="spacingAndGlyphs">+FGF23 +IL-1β</text>
<rect x="438.1" y="401.2" width="6.8" height="6.8" fill="#c97a2c" stroke="#2a2a1a" stroke-width="0.8"/>
<text transform="translate(448.2,403)" font-size="8.3" fill="#383838" text-anchor="start" textLength="50.2" lengthAdjust="spacingAndGlyphs">+FGF23 +IL-1β</text>
<text transform="translate(448.2,412.3)" font-size="8.3" fill="#383838" text-anchor="start" textLength="50.2" lengthAdjust="spacingAndGlyphs">+Furin inhibitor</text>
<text transform="translate(7,448)" font-size="11.5" fill="#111" text-anchor="start" font-weight="bold">L</text>
<line x1="66.5" y1="456" x2="66.5" y2="542.3" stroke="#1e1e1e" stroke-width="1.2" />
<line x1="63.9" y1="542.3" x2="66.5" y2="542.3" stroke="#1e1e1e" stroke-width="0.9" />
<text transform="translate(59.5,545.4) scale(0.9,1)" font-size="8.6" fill="#383838" text-anchor="end">0</text>
<line x1="63.9" y1="530.37" x2="66.5" y2="530.37" stroke="#1e1e1e" stroke-width="0.9" />
<text transform="translate(59.5,533.47) scale(0.9,1)" font-size="8.6" fill="#383838" text-anchor="end">5000</text>
<line x1="63.9" y1="518.44" x2="66.5" y2="518.44" stroke="#1e1e1e" stroke-width="0.9" />
<text transform="translate(59.5,521.54) scale(0.9,1)" font-size="8.6" fill="#383838" text-anchor="end">10000</text>
<line x1="63.9" y1="506.51" x2="66.5" y2="506.51" stroke="#1e1e1e" stroke-width="0.9" />
<text transform="translate(59.5,509.61) scale(0.9,1)" font-size="8.6" fill="#383838" text-anchor="end">15000</text>
<line x1="63.9" y1="494.58" x2="66.5" y2="494.58" stroke="#1e1e1e" stroke-width="0.9" />
<text transform="translate(59.5,497.68) scale(0.9,1)" font-size="8.6" fill="#383838" text-anchor="end">20000</text>
<line x1="63.9" y1="482.65" x2="66.5" y2="482.65" stroke="#1e1e1e" stroke-width="0.9" />
<text transform="translate(59.5,485.75) scale(0.9,1)" font-size="8.6" fill="#383838" text-anchor="end">25000</text>
<line x1="63.9" y1="470.72" x2="66.5" y2="470.72" stroke="#1e1e1e" stroke-width="0.9" />
<text transform="translate(59.5,473.82) scale(0.9,1)" font-size="8.6" fill="#383838" text-anchor="end">30000</text>
<line x1="63.9" y1="458.79" x2="66.5" y2="458.79" stroke="#1e1e1e" stroke-width="0.9" />
<text transform="translate(59.5,461.89) scale(0.9,1)" font-size="8.6" fill="#383838" text-anchor="end">35000</text>
<text transform="translate(33.7,499) rotate(-90)" font-size="10.3" fill="#4a4a4a" text-anchor="middle" textLength="76" lengthAdjust="spacingAndGlyphs">Serum cFGF23 (pg/mL)</text>
<clipPath id="cl"><rect x="60" y="450" width="80" height="92"/></clipPath><g clip-path="url(#cl)">
<polygon points="74.2,538.52 71.15,545.32 77.25,545.32" fill="#42a8cf" stroke="#123846" stroke-width="0.9" stroke-linejoin="round"/>
<polygon points="75.3,538.92 72.25,545.72 78.35,545.72" fill="#42a8cf" stroke="#123846" stroke-width="0.9" stroke-linejoin="round"/>
<polygon points="74.9,538.72 71.85,545.52 77.95,545.52" fill="#42a8cf" stroke="#123846" stroke-width="0.9" stroke-linejoin="round"/>
<polygon points="90.8,539 94.2,542.4 90.8,545.8 87.4,542.4" fill="#42a8cf" stroke="#123846" stroke-width="0.9"/>
<polygon points="92.6,539.2 96,542.6 92.6,546 89.2,542.6" fill="#42a8cf" stroke="#123846" stroke-width="0.9"/>
<polygon points="93.2,539.4 96.6,542.8 93.2,546.2 89.8,542.8" fill="#42a8cf" stroke="#123846" stroke-width="0.9"/>
</g>
<line x1="107" y1="483.5" x2="112" y2="483.5" stroke="#2a2a2a" stroke-width="1" />
<line x1="107.5" y1="480" x2="111.5" y2="480" stroke="#2a2a2a" stroke-width="1" />
<line x1="109.5" y1="480" x2="109.5" y2="483.5" stroke="#2a2a2a" stroke-width="1" />
<polygon points="110,465.12 106.95,471.92 113.05,471.92" fill="#a5112d" stroke="#3c0610" stroke-width="0.9" stroke-linejoin="round"/>
<polygon points="107.4,475.92 104.35,482.72 110.45,482.72" fill="#a5112d" stroke="#3c0610" stroke-width="0.9" stroke-linejoin="round"/>
<polygon points="108.5,478.92 105.45,485.72 111.55,485.72" fill="#a5112d" stroke="#3c0610" stroke-width="0.9" stroke-linejoin="round"/>
<polygon points="107.7,482.12 104.65,488.92 110.75,488.92" fill="#a5112d" stroke="#3c0610" stroke-width="0.9" stroke-linejoin="round"/>
<polygon points="107,495.92 103.95,502.72 110.05,502.72" fill="#a5112d" stroke="#3c0610" stroke-width="0.9" stroke-linejoin="round"/>
<polygon points="126.5,507.8 129.9,511.2 126.5,514.6 123.1,511.2" fill="#dba0a0" stroke="#3a1a1c" stroke-width="0.9"/>
<polygon points="125.8,525.1 129.2,528.5 125.8,531.9 122.4,528.5" fill="#dba0a0" stroke="#3a1a1c" stroke-width="0.9"/>
<polygon points="127,528.9 130.4,532.3 127,535.7 123.6,532.3" fill="#dba0a0" stroke="#3a1a1c" stroke-width="0.9"/>
<polygon points="124.3,533.6 127.7,537 124.3,540.4 120.9,537" fill="#dba0a0" stroke="#3a1a1c" stroke-width="0.9"/>
<line x1="120.4" y1="527.4" x2="130.4" y2="527.4" stroke="#2a2a2a" stroke-width="1" />
<line x1="123.1" y1="521.5" x2="127.7" y2="521.5" stroke="#2a2a2a" stroke-width="1" />
<line x1="125.4" y1="521.5" x2="125.4" y2="527.4" stroke="#2a2a2a" stroke-width="1" />
<line x1="65.9" y1="542.3" x2="133.8" y2="542.3" stroke="#1e1e1e" stroke-width="1.2" />
<text transform="translate(108.5,461.7) scale(0.92,1)" font-size="8.6" fill="#383838" text-anchor="middle">cd</text>
<text transform="translate(125.4,505.2) scale(0.92,1)" font-size="8.6" fill="#383838" text-anchor="middle">cde</text>
<text transform="translate(154.4,448)" font-size="11.5" fill="#111" text-anchor="start" font-weight="bold">M</text>
<line x1="214.9" y1="456" x2="214.9" y2="542.3" stroke="#1e1e1e" stroke-width="1.2" />
<line x1="212.3" y1="542.3" x2="214.9" y2="542.3" stroke="#1e1e1e" stroke-width="0.9" />
<text transform="translate(209.2,545.4) scale(0.9,1)" font-size="8.6" fill="#383838" text-anchor="end">0</text>
<line x1="212.3" y1="530.37" x2="214.9" y2="530.37" stroke="#1e1e1e" stroke-width="0.9" />
<text transform="translate(209.2,533.47) scale(0.9,1)" font-size="8.6" fill="#383838" text-anchor="end">200</text>
<line x1="212.3" y1="518.44" x2="214.9" y2="518.44" stroke="#1e1e1e" stroke-width="0.9" />
<text transform="translate(209.2,521.54) scale(0.9,1)" font-size="8.6" fill="#383838" text-anchor="end">400</text>
<line x1="212.3" y1="506.51" x2="214.9" y2="506.51" stroke="#1e1e1e" stroke-width="0.9" />
<text transform="translate(209.2,509.61) scale(0.9,1)" font-size="8.6" fill="#383838" text-anchor="end">600</text>
<line x1="212.3" y1="494.58" x2="214.9" y2="494.58" stroke="#1e1e1e" stroke-width="0.9" />
<text transform="translate(209.2,497.68) scale(0.9,1)" font-size="8.6" fill="#383838" text-anchor="end">800</text>
<line x1="212.3" y1="482.65" x2="214.9" y2="482.65" stroke="#1e1e1e" stroke-width="0.9" />
<text transform="translate(209.2,485.75) scale(0.9,1)" font-size="8.6" fill="#383838" text-anchor="end">1000</text>
<line x1="212.3" y1="470.72" x2="214.9" y2="470.72" stroke="#1e1e1e" stroke-width="0.9" />
<text transform="translate(209.2,473.82) scale(0.9,1)" font-size="8.6" fill="#383838" text-anchor="end">1200</text>
<line x1="212.3" y1="458.79" x2="214.9" y2="458.79" stroke="#1e1e1e" stroke-width="0.9" />
<text transform="translate(209.2,461.89) scale(0.9,1)" font-size="8.6" fill="#383838" text-anchor="end">1400</text>
<text transform="translate(185.5,498.8) rotate(-90)" font-size="10.3" fill="#4a4a4a" text-anchor="middle" textLength="77" lengthAdjust="spacingAndGlyphs">Serum iFGF23 (pg/mL)</text>
<polygon points="221.4,535.52 218.35,542.32 224.45,542.32" fill="#42a8cf" stroke="#123846" stroke-width="0.9" stroke-linejoin="round"/>
<polygon points="225.2,535.72 222.15,542.52 228.25,542.52" fill="#42a8cf" stroke="#123846" stroke-width="0.9" stroke-linejoin="round"/>
<polygon points="223.2,533.82 220.15,540.62 226.25,540.62" fill="#42a8cf" stroke="#123846" stroke-width="0.9" stroke-linejoin="round"/>
<polygon points="240.2,533.8 243.6,537.2 240.2,540.6 236.8,537.2" fill="#42a8cf" stroke="#123846" stroke-width="0.9"/>
<polygon points="242.8,533.8 246.2,537.2 242.8,540.6 239.4,537.2" fill="#42a8cf" stroke="#123846" stroke-width="0.9"/>
<polygon points="241.5,534.2 244.9,537.6 241.5,541 238.1,537.6" fill="#42a8cf" stroke="#123846" stroke-width="0.9"/>
<line x1="254" y1="511.5" x2="264" y2="511.5" stroke="#2a2a2a" stroke-width="1" />
<line x1="255.5" y1="509" x2="262.5" y2="509" stroke="#2a2a2a" stroke-width="1" />
<line x1="255.5" y1="514" x2="262.5" y2="514" stroke="#2a2a2a" stroke-width="1" />
<line x1="259" y1="509" x2="259" y2="514" stroke="#2a2a2a" stroke-width="1" />
<polygon points="258,502.92 254.95,509.72 261.05,509.72" fill="#a5112d" stroke="#3c0610" stroke-width="0.9" stroke-linejoin="round"/>
<polygon points="258.9,512.92 255.85,519.72 261.95,519.72" fill="#a5112d" stroke="#3c0610" stroke-width="0.9" stroke-linejoin="round"/>
<polygon points="258.5,513.62 255.45,520.42 261.55,520.42" fill="#a5112d" stroke="#3c0610" stroke-width="0.9" stroke-linejoin="round"/>
<polygon points="260,527.42 256.95,534.22 263.05,534.22" fill="#a5112d" stroke="#3c0610" stroke-width="0.9" stroke-linejoin="round"/>
<line x1="272.4" y1="498.4" x2="282.4" y2="498.4" stroke="#2a2a2a" stroke-width="1" />
<line x1="274.9" y1="492" x2="279.9" y2="492" stroke="#2a2a2a" stroke-width="1" />
<line x1="274.9" y1="506.2" x2="279.9" y2="506.2" stroke="#2a2a2a" stroke-width="1" />
<line x1="277.4" y1="492" x2="277.4" y2="506.2" stroke="#2a2a2a" stroke-width="1" />
<polygon points="276.8,469.6 280.2,473 276.8,476.4 273.4,473" fill="#dba0a0" stroke="#3a1a1c" stroke-width="0.9"/>
<polygon points="278.5,487 281.9,490.4 278.5,493.8 275.1,490.4" fill="#dba0a0" stroke="#3a1a1c" stroke-width="0.9"/>
<polygon points="276.6,497.8 280,501.2 276.6,504.6 273.2,501.2" fill="#dba0a0" stroke="#3a1a1c" stroke-width="0.9"/>
<polygon points="276,506.5 279.4,509.9 276,513.3 272.6,509.9" fill="#dba0a0" stroke="#3a1a1c" stroke-width="0.9"/>
<polygon points="277.8,513.4 281.2,516.8 277.8,520.2 274.4,516.8" fill="#dba0a0" stroke="#3a1a1c" stroke-width="0.9"/>
<line x1="214.3" y1="542.3" x2="286.2" y2="542.3" stroke="#1e1e1e" stroke-width="1.2" />
<text transform="translate(240.8,529.6) scale(0.92,1)" font-size="8.6" fill="#383838" text-anchor="middle">c</text>
<text transform="translate(258.9,499.9) scale(0.92,1)" font-size="8.6" fill="#383838" text-anchor="middle">cd</text>
<text transform="translate(276.9,466) scale(0.92,1)" font-size="8.6" fill="#383838" text-anchor="middle">cde</text>
<text transform="translate(314,448)" font-size="11.5" fill="#111" text-anchor="start" font-weight="bold">N</text>
<line x1="354.8" y1="456" x2="354.8" y2="542.2" stroke="#1e1e1e" stroke-width="1.2" />
<line x1="352.2" y1="542.2" x2="354.8" y2="542.2" stroke="#1e1e1e" stroke-width="0.9" />
<text transform="translate(350.7,545.3) scale(0.9,1)" font-size="8.6" fill="#383838" text-anchor="end">0</text>
<line x1="352.2" y1="525.42" x2="354.8" y2="525.42" stroke="#1e1e1e" stroke-width="0.9" />
<text transform="translate(350.7,528.52) scale(0.9,1)" font-size="8.6" fill="#383838" text-anchor="end">10</text>
<line x1="352.2" y1="508.64" x2="354.8" y2="508.64" stroke="#1e1e1e" stroke-width="0.9" />
<text transform="translate(350.7,511.74) scale(0.9,1)" font-size="8.6" fill="#383838" text-anchor="end">20</text>
<line x1="352.2" y1="491.86" x2="354.8" y2="491.86" stroke="#1e1e1e" stroke-width="0.9" />
<text transform="translate(350.7,494.96) scale(0.9,1)" font-size="8.6" fill="#383838" text-anchor="end">30</text>
<line x1="352.2" y1="475.08" x2="354.8" y2="475.08" stroke="#1e1e1e" stroke-width="0.9" />
<text transform="translate(350.7,478.18) scale(0.9,1)" font-size="8.6" fill="#383838" text-anchor="end">40</text>
<line x1="352.2" y1="458.3" x2="354.8" y2="458.3" stroke="#1e1e1e" stroke-width="0.9" />
<text transform="translate(350.7,461.4) scale(0.9,1)" font-size="8.6" fill="#383838" text-anchor="end">50</text>
<text transform="translate(334.4,499) rotate(-90)" font-size="8.8" fill="#4a4a4a" text-anchor="middle" textLength="43.5" lengthAdjust="spacingAndGlyphs">i/c FGF23 (%)</text>
<line x1="359.3" y1="484.6" x2="370.3" y2="484.6" stroke="#2a2a2a" stroke-width="1" />
<line x1="361" y1="478.6" x2="368.6" y2="478.6" stroke="#2a2a2a" stroke-width="1" />
<line x1="361" y1="490" x2="368.6" y2="490" stroke="#2a2a2a" stroke-width="1" />
<line x1="364.8" y1="478.6" x2="364.8" y2="490" stroke="#2a2a2a" stroke-width="1" />
<polygon points="366.4,465.52 363.35,472.32 369.45,472.32" fill="#42a8cf" stroke="#123846" stroke-width="0.9" stroke-linejoin="round"/>
<polygon points="364.5,471.92 361.45,478.72 367.55,478.72" fill="#42a8cf" stroke="#123846" stroke-width="0.9" stroke-linejoin="round"/>
<polygon points="364.5,480.52 361.45,487.32 367.55,487.32" fill="#42a8cf" stroke="#123846" stroke-width="0.9" stroke-linejoin="round"/>
<polygon points="365.2,492.32 362.15,499.12 368.25,499.12" fill="#42a8cf" stroke="#123846" stroke-width="0.9" stroke-linejoin="round"/>
<polygon points="364.5,493.32 361.45,500.12 367.55,500.12" fill="#42a8cf" stroke="#123846" stroke-width="0.9" stroke-linejoin="round"/>
<polygon points="383.4,458.6 386.8,462 383.4,465.4 380,462" fill="#42a8cf" stroke="#123846" stroke-width="0.9"/>
<polygon points="385.5,462.9 388.9,466.3 385.5,469.7 382.1,466.3" fill="#42a8cf" stroke="#123846" stroke-width="0.9"/>
<polygon points="385.1,467.1 388.5,470.5 385.1,473.9 381.7,470.5" fill="#42a8cf" stroke="#123846" stroke-width="0.9"/>
<polygon points="386.5,476 389.9,479.4 386.5,482.8 383.1,479.4" fill="#42a8cf" stroke="#123846" stroke-width="0.9"/>
<line x1="379.1" y1="469" x2="390.1" y2="469" stroke="#2a2a2a" stroke-width="1" />
<line x1="380.8" y1="467" x2="388.4" y2="467" stroke="#2a2a2a" stroke-width="1" />
<line x1="380.8" y1="471" x2="388.4" y2="471" stroke="#2a2a2a" stroke-width="1" />
<line x1="384.6" y1="467" x2="384.6" y2="471" stroke="#2a2a2a" stroke-width="1" />
<polygon points="403.5,535.52 400.45,542.32 406.55,542.32" fill="#a5112d" stroke="#3c0610" stroke-width="0.9" stroke-linejoin="round"/>
<polygon points="405.5,535.72 402.45,542.52 408.55,542.52" fill="#a5112d" stroke="#3c0610" stroke-width="0.9" stroke-linejoin="round"/>
<polygon points="404.5,535.12 401.45,541.92 407.55,541.92" fill="#a5112d" stroke="#3c0610" stroke-width="0.9" stroke-linejoin="round"/>
<line x1="420.7" y1="518.9" x2="431.7" y2="518.9" stroke="#2a2a2a" stroke-width="1" />
<line x1="423.2" y1="512.7" x2="429.2" y2="512.7" stroke="#2a2a2a" stroke-width="1" />
<line x1="426.2" y1="512.7" x2="426.2" y2="518.9" stroke="#2a2a2a" stroke-width="1" />
<polygon points="426.2,496.8 429.6,500.2 426.2,503.6 422.8,500.2" fill="#dba0a0" stroke="#3a1a1c" stroke-width="0.9"/>
<polygon points="425.5,520.6 428.9,524 425.5,527.4 422.1,524" fill="#dba0a0" stroke="#3a1a1c" stroke-width="0.9"/>
<polygon points="426.8,522.2 430.2,525.6 426.8,529 423.4,525.6" fill="#dba0a0" stroke="#3a1a1c" stroke-width="0.9"/>
<polygon points="426,523.6 429.4,527 426,530.4 422.6,527" fill="#dba0a0" stroke="#3a1a1c" stroke-width="0.9"/>
<line x1="354.2" y1="542.2" x2="435.2" y2="542.2" stroke="#1e1e1e" stroke-width="1.2" />
<text transform="translate(384.6,457.4) scale(0.92,1)" font-size="8.6" fill="#383838" text-anchor="middle">c</text>
<text transform="translate(405,530.1) scale(0.92,1)" font-size="8.6" fill="#383838" text-anchor="middle">cd</text>
<text transform="translate(425.8,494.2) scale(0.92,1)" font-size="8.6" fill="#383838" text-anchor="middle">cde</text>
<polygon points="445.3,467.12 442.25,473.92 448.35,473.92" fill="#42a8cf" stroke="#123846" stroke-width="0.9" stroke-linejoin="round"/>
<text transform="translate(451.1,473.4)" font-size="8.3" fill="#383838" text-anchor="start" textLength="23.6" lengthAdjust="spacingAndGlyphs">WT Ctr</text>
<polygon points="445.3,479.9 448.7,483.3 445.3,486.7 441.9,483.3" fill="#42a8cf" stroke="#123846" stroke-width="0.9"/>
<text transform="translate(451.1,485.8)" font-size="8.3" fill="#383838" text-anchor="start" textLength="56" lengthAdjust="spacingAndGlyphs">Furin<tspan font-size="5.2" dy="-3.4">DMP1-cKO</tspan><tspan dy="3.4"> Ctr</tspan></text>
<polygon points="445.3,492.62 442.25,499.42 448.35,499.42" fill="#a5112d" stroke="#3c0610" stroke-width="0.9" stroke-linejoin="round"/>
<text transform="translate(451.1,499.2)" font-size="8.3" fill="#383838" text-anchor="start" textLength="31" lengthAdjust="spacingAndGlyphs">WT IL-1β</text>
<polygon points="445.3,505.8 448.7,509.2 445.3,512.6 441.9,509.2" fill="#dba0a0" stroke="#3a1a1c" stroke-width="0.9"/>
<text transform="translate(451.1,511.7)" font-size="8.3" fill="#383838" text-anchor="start" textLength="62" lengthAdjust="spacingAndGlyphs">Furin<tspan font-size="5.2" dy="-3.4">DMP1-cKO</tspan><tspan dy="3.4"> IL-1β</tspan></text>
<text transform="translate(7.5,571.5)" font-size="11.5" fill="#111" text-anchor="start" font-weight="bold">O</text>
<line x1="66.7" y1="578.7" x2="66.7" y2="666.6" stroke="#1e1e1e" stroke-width="1.2" />
<line x1="64.1" y1="581.5" x2="66.7" y2="581.5" stroke="#1e1e1e" stroke-width="0.9" />
<text transform="translate(60.2,584.1) scale(0.9,1)" font-size="8.6" fill="#383838" text-anchor="end">200.0</text>
<line x1="64.1" y1="593.4" x2="66.7" y2="593.4" stroke="#1e1e1e" stroke-width="0.9" />
<text transform="translate(60.2,596) scale(0.9,1)" font-size="8.6" fill="#383838" text-anchor="end">50.0</text>
<line x1="64.1" y1="607.2" x2="66.7" y2="607.2" stroke="#1e1e1e" stroke-width="0.9" />
<text transform="translate(60.2,609.8) scale(0.9,1)" font-size="8.6" fill="#383838" text-anchor="end">10.0</text>
<line x1="64.1" y1="627.2" x2="66.7" y2="627.2" stroke="#1e1e1e" stroke-width="0.9" />
<text transform="translate(60.2,629.8) scale(0.9,1)" font-size="8.6" fill="#383838" text-anchor="end">1.0</text>
<line x1="64.1" y1="646.9" x2="66.7" y2="646.9" stroke="#1e1e1e" stroke-width="0.9" />
<text transform="translate(60.2,649.5) scale(0.9,1)" font-size="8.6" fill="#383838" text-anchor="end">0.1</text>
<text transform="translate(36.3,622.9) rotate(-90)" font-size="10.3" fill="#4a4a4a" text-anchor="middle" textLength="70.6" lengthAdjust="spacingAndGlyphs"><tspan font-style="italic">Fgf23</tspan> mRNA (n-fold)</text>
<polygon points="74.6,622.12 71.55,628.92 77.65,628.92" fill="#42a8cf" stroke="#123846" stroke-width="0.9" stroke-linejoin="round"/>
<polygon points="76.9,620.52 73.85,627.32 79.95,627.32" fill="#42a8cf" stroke="#123846" stroke-width="0.9" stroke-linejoin="round"/>
<polygon points="75.7,622.92 72.65,629.72 78.75,629.72" fill="#42a8cf" stroke="#123846" stroke-width="0.9" stroke-linejoin="round"/>
<polygon points="73.8,631.32 70.75,638.12 76.85,638.12" fill="#42a8cf" stroke="#123846" stroke-width="0.9" stroke-linejoin="round"/>
<line x1="86.7" y1="617.4" x2="97.7" y2="617.4" stroke="#2a2a2a" stroke-width="1" />
<line x1="88.7" y1="613.5" x2="95.7" y2="613.5" stroke="#2a2a2a" stroke-width="1" />
<line x1="88.7" y1="621" x2="95.7" y2="621" stroke="#2a2a2a" stroke-width="1" />
<line x1="92.2" y1="613.5" x2="92.2" y2="621" stroke="#2a2a2a" stroke-width="1" />
<polygon points="92.3,609.6 95.7,613 92.3,616.4 88.9,613" fill="#42a8cf" stroke="#123846" stroke-width="0.9"/>
<polygon points="92.6,617.1 96,620.5 92.6,623.9 89.2,620.5" fill="#42a8cf" stroke="#123846" stroke-width="0.9"/>
<polygon points="91.5,622.8 94.9,626.2 91.5,629.6 88.1,626.2" fill="#42a8cf" stroke="#123846" stroke-width="0.9"/>
<polygon points="91.5,624.8 94.9,628.2 91.5,631.6 88.1,628.2" fill="#42a8cf" stroke="#123846" stroke-width="0.9"/>
<line x1="105" y1="594.3" x2="116" y2="594.3" stroke="#2a2a2a" stroke-width="1" />
<line x1="107" y1="591" x2="114" y2="591" stroke="#2a2a2a" stroke-width="1" />
<line x1="107" y1="598" x2="114" y2="598" stroke="#2a2a2a" stroke-width="1" />
<line x1="110.5" y1="591" x2="110.5" y2="598" stroke="#2a2a2a" stroke-width="1" />
<polygon points="109.2,583.62 106.15,590.42 112.25,590.42" fill="#a5112d" stroke="#3c0610" stroke-width="0.9" stroke-linejoin="round"/>
<polygon points="112.3,591.32 109.25,598.12 115.35,598.12" fill="#a5112d" stroke="#3c0610" stroke-width="0.9" stroke-linejoin="round"/>
<polygon points="110,595.92 106.95,602.72 113.05,602.72" fill="#a5112d" stroke="#3c0610" stroke-width="0.9" stroke-linejoin="round"/>
<polygon points="110.8,597.42 107.75,604.22 113.85,604.22" fill="#a5112d" stroke="#3c0610" stroke-width="0.9" stroke-linejoin="round"/>
<polygon points="127.7,582.8 131.1,586.2 127.7,589.6 124.3,586.2" fill="#dba0a0" stroke="#3a1a1c" stroke-width="0.9"/>
<polygon points="127.4,590.4 130.8,593.8 127.4,597.2 124,593.8" fill="#dba0a0" stroke="#3a1a1c" stroke-width="0.9"/>
<polygon points="128.5,591.6 131.9,595 128.5,598.4 125.1,595" fill="#dba0a0" stroke="#3a1a1c" stroke-width="0.9"/>
<polygon points="127.7,597.4 131.1,600.8 127.7,604.2 124.3,600.8" fill="#dba0a0" stroke="#3a1a1c" stroke-width="0.9"/>
<line x1="122.2" y1="590" x2="133.2" y2="590" stroke="#2a2a2a" stroke-width="1" />
<line x1="124.7" y1="587.5" x2="130.7" y2="587.5" stroke="#2a2a2a" stroke-width="1" />
<line x1="127.7" y1="587.5" x2="127.7" y2="590" stroke="#2a2a2a" stroke-width="1" />
<line x1="66.1" y1="666.6" x2="136.9" y2="666.6" stroke="#1e1e1e" stroke-width="1.2" />
<text transform="translate(92.6,607.2) scale(0.92,1)" font-size="8.6" fill="#383838" text-anchor="middle">c</text>
<text transform="translate(110.5,581.4) scale(0.92,1)" font-size="8.6" fill="#383838" text-anchor="middle">cd</text>
<text transform="translate(127.7,581.4) scale(0.92,1)" font-size="8.6" fill="#383838" text-anchor="middle">cd</text>
<text transform="translate(153.8,571.5)" font-size="11.5" fill="#111" text-anchor="start" font-weight="bold">P</text>
<line x1="214.3" y1="578.7" x2="214.3" y2="666.6" stroke="#1e1e1e" stroke-width="1.2" />
<line x1="211.7" y1="666.6" x2="214.3" y2="666.6" stroke="#1e1e1e" stroke-width="0.9" />
<text transform="translate(209.2,669.7) scale(0.9,1)" font-size="8.6" fill="#383838" text-anchor="end">0</text>
<line x1="211.7" y1="649.58" x2="214.3" y2="649.58" stroke="#1e1e1e" stroke-width="0.9" />
<text transform="translate(209.2,652.68) scale(0.9,1)" font-size="8.6" fill="#383838" text-anchor="end">2</text>
<line x1="211.7" y1="632.56" x2="214.3" y2="632.56" stroke="#1e1e1e" stroke-width="0.9" />
<text transform="translate(209.2,635.66) scale(0.9,1)" font-size="8.6" fill="#383838" text-anchor="end">4</text>
<line x1="211.7" y1="615.54" x2="214.3" y2="615.54" stroke="#1e1e1e" stroke-width="0.9" />
<text transform="translate(209.2,618.64) scale(0.9,1)" font-size="8.6" fill="#383838" text-anchor="end">6</text>
<line x1="211.7" y1="598.52" x2="214.3" y2="598.52" stroke="#1e1e1e" stroke-width="0.9" />
<text transform="translate(209.2,601.62) scale(0.9,1)" font-size="8.6" fill="#383838" text-anchor="end">8</text>
<line x1="211.7" y1="581.5" x2="214.3" y2="581.5" stroke="#1e1e1e" stroke-width="0.9" />
<text transform="translate(209.2,584.6) scale(0.9,1)" font-size="8.6" fill="#383838" text-anchor="end">10</text>
<text transform="translate(194,622.5) rotate(-90)" font-size="10.3" fill="#4a4a4a" text-anchor="middle" textLength="58.5" lengthAdjust="spacingAndGlyphs">Serum Pi (mg/dL)</text>
<line x1="218.3" y1="594.9" x2="229.3" y2="594.9" stroke="#2a2a2a" stroke-width="1" />
<line x1="220.3" y1="593" x2="227.3" y2="593" stroke="#2a2a2a" stroke-width="1" />
<line x1="220.3" y1="596.8" x2="227.3" y2="596.8" stroke="#2a2a2a" stroke-width="1" />
<line x1="223.8" y1="593" x2="223.8" y2="596.8" stroke="#2a2a2a" stroke-width="1" />
<polygon points="223.8,582.92 220.75,589.72 226.85,589.72" fill="#42a8cf" stroke="#123846" stroke-width="0.9" stroke-linejoin="round"/>
<polygon points="223.1,592.82 220.05,599.62 226.15,599.62" fill="#42a8cf" stroke="#123846" stroke-width="0.9" stroke-linejoin="round"/>
<polygon points="225.4,595.12 222.35,601.92 228.45,601.92" fill="#42a8cf" stroke="#123846" stroke-width="0.9" stroke-linejoin="round"/>
<polygon points="221.5,595.92 218.45,602.72 224.55,602.72" fill="#42a8cf" stroke="#123846" stroke-width="0.9" stroke-linejoin="round"/>
<line x1="240" y1="602.3" x2="250" y2="602.3" stroke="#2a2a2a" stroke-width="1" />
<line x1="241.5" y1="600" x2="248.5" y2="600" stroke="#2a2a2a" stroke-width="1" />
<line x1="241.5" y1="604.5" x2="248.5" y2="604.5" stroke="#2a2a2a" stroke-width="1" />
<line x1="245" y1="600" x2="245" y2="604.5" stroke="#2a2a2a" stroke-width="1" />
<polygon points="243,595.1 246.4,598.5 243,601.9 239.6,598.5" fill="#42a8cf" stroke="#123846" stroke-width="0.9"/>
<polygon points="246,597.4 249.4,600.8 246,604.2 242.6,600.8" fill="#42a8cf" stroke="#123846" stroke-width="0.9"/>
<polygon points="245,599.6 248.4,603 245,606.4 241.6,603" fill="#42a8cf" stroke="#123846" stroke-width="0.9"/>
<polygon points="246.6,603.2 250,606.6 246.6,610 243.2,606.6" fill="#42a8cf" stroke="#123846" stroke-width="0.9"/>
<line x1="260.3" y1="600.8" x2="271.3" y2="600.8" stroke="#2a2a2a" stroke-width="1" />
<line x1="262.3" y1="598.5" x2="269.3" y2="598.5" stroke="#2a2a2a" stroke-width="1" />
<line x1="262.3" y1="603" x2="269.3" y2="603" stroke="#2a2a2a" stroke-width="1" />
<line x1="265.8" y1="598.5" x2="265.8" y2="603" stroke="#2a2a2a" stroke-width="1" />
<polygon points="264.6,589.72 261.55,596.52 267.65,596.52" fill="#a5112d" stroke="#3c0610" stroke-width="0.9" stroke-linejoin="round"/>
<polygon points="265.4,595.92 262.35,602.72 268.45,602.72" fill="#a5112d" stroke="#3c0610" stroke-width="0.9" stroke-linejoin="round"/>
<polygon points="267,598.92 263.95,605.72 270.05,605.72" fill="#a5112d" stroke="#3c0610" stroke-width="0.9" stroke-linejoin="round"/>
<polygon points="266.2,602.12 263.15,608.92 269.25,608.92" fill="#a5112d" stroke="#3c0610" stroke-width="0.9" stroke-linejoin="round"/>
<polygon points="286.5,599.9 289.9,603.3 286.5,606.7 283.1,603.3" fill="#dba0a0" stroke="#3a1a1c" stroke-width="0.9"/>
<polygon points="286.5,604.2 289.9,607.6 286.5,611 283.1,607.6" fill="#dba0a0" stroke="#3a1a1c" stroke-width="0.9"/>
<polygon points="286.5,610 289.9,613.4 286.5,616.8 283.1,613.4" fill="#dba0a0" stroke="#3a1a1c" stroke-width="0.9"/>
<polygon points="286.5,612.8 289.9,616.2 286.5,619.6 283.1,616.2" fill="#dba0a0" stroke="#3a1a1c" stroke-width="0.9"/>
<polygon points="286.5,617.2 289.9,620.6 286.5,624 283.1,620.6" fill="#dba0a0" stroke="#3a1a1c" stroke-width="0.9"/>
<line x1="282" y1="612" x2="291" y2="612" stroke="#2a2a2a" stroke-width="1" />
<line x1="283.5" y1="609" x2="289.5" y2="609" stroke="#2a2a2a" stroke-width="1" />
<line x1="283.5" y1="615" x2="289.5" y2="615" stroke="#2a2a2a" stroke-width="1" />
<line x1="286.5" y1="609" x2="286.5" y2="615" stroke="#2a2a2a" stroke-width="1" />
<line x1="213.7" y1="666.6" x2="296" y2="666.6" stroke="#1e1e1e" stroke-width="1.2" />
<text transform="translate(245.4,593.7) scale(0.92,1)" font-size="8.6" fill="#383838" text-anchor="middle">c</text>
<text transform="translate(286.5,599.1) scale(0.92,1)" font-size="8.6" fill="#383838" text-anchor="middle">cde</text>
<text transform="translate(314.2,571.5)" font-size="11.5" fill="#111" text-anchor="start" font-weight="bold">Q</text>
<line x1="354.4" y1="578.7" x2="354.4" y2="666.2" stroke="#1e1e1e" stroke-width="1.2" />
<line x1="351.8" y1="666.2" x2="354.4" y2="666.2" stroke="#1e1e1e" stroke-width="0.9" />
<text transform="translate(349.5,669.3) scale(0.9,1)" font-size="8.6" fill="#383838" text-anchor="end">0</text>
<line x1="351.8" y1="649.27" x2="354.4" y2="649.27" stroke="#1e1e1e" stroke-width="0.9" />
<text transform="translate(349.5,652.37) scale(0.9,1)" font-size="8.6" fill="#383838" text-anchor="end">20</text>
<line x1="351.8" y1="632.34" x2="354.4" y2="632.34" stroke="#1e1e1e" stroke-width="0.9" />
<text transform="translate(349.5,635.44) scale(0.9,1)" font-size="8.6" fill="#383838" text-anchor="end">40</text>
<line x1="351.8" y1="615.41" x2="354.4" y2="615.41" stroke="#1e1e1e" stroke-width="0.9" />
<text transform="translate(349.5,618.51) scale(0.9,1)" font-size="8.6" fill="#383838" text-anchor="end">60</text>
<line x1="351.8" y1="598.48" x2="354.4" y2="598.48" stroke="#1e1e1e" stroke-width="0.9" />
<text transform="translate(349.5,601.58) scale(0.9,1)" font-size="8.6" fill="#383838" text-anchor="end">80</text>
<line x1="351.8" y1="581.55" x2="354.4" y2="581.55" stroke="#1e1e1e" stroke-width="0.9" />
<text transform="translate(349.5,584.65) scale(0.9,1)" font-size="8.6" fill="#383838" text-anchor="end">100</text>
<text transform="translate(328.5,621.8) rotate(-90)" font-size="10.3" fill="#4a4a4a" text-anchor="middle" textLength="62.8" lengthAdjust="spacingAndGlyphs">1,25OH<tspan font-size="6" dy="1.8">2</tspan><tspan dy="-1.8">D (pg/mL)</tspan></text>
<line x1="359.1" y1="621.5" x2="370.1" y2="621.5" stroke="#2a2a2a" stroke-width="1" />
<line x1="361.1" y1="619.6" x2="368.1" y2="619.6" stroke="#2a2a2a" stroke-width="1" />
<line x1="361.1" y1="623.8" x2="368.1" y2="623.8" stroke="#2a2a2a" stroke-width="1" />
<line x1="364.6" y1="619.6" x2="364.6" y2="623.8" stroke="#2a2a2a" stroke-width="1" />
<polygon points="365.4,609.72 362.35,616.52 368.45,616.52" fill="#42a8cf" stroke="#123846" stroke-width="0.9" stroke-linejoin="round"/>
<polygon points="364.6,617.92 361.55,624.72 367.65,624.72" fill="#42a8cf" stroke="#123846" stroke-width="0.9" stroke-linejoin="round"/>
<polygon points="364,620.72 360.95,627.52 367.05,627.52" fill="#42a8cf" stroke="#123846" stroke-width="0.9" stroke-linejoin="round"/>
<polygon points="363.5,623.62 360.45,630.42 366.55,630.42" fill="#42a8cf" stroke="#123846" stroke-width="0.9" stroke-linejoin="round"/>
<line x1="378.7" y1="607.5" x2="389.7" y2="607.5" stroke="#555" stroke-width="1" />
<line x1="380.7" y1="597.3" x2="387.7" y2="597.3" stroke="#555" stroke-width="1" />
<line x1="380.7" y1="617.1" x2="387.7" y2="617.1" stroke="#555" stroke-width="1" />
<line x1="384.2" y1="597.3" x2="384.2" y2="617.1" stroke="#555" stroke-width="1" />
<polygon points="382.7,581.6 386.1,585 382.7,588.4 379.3,585" fill="#42a8cf" stroke="#123846" stroke-width="0.9"/>
<polygon points="383.8,598.3 387.2,601.7 383.8,605.1 380.4,601.7" fill="#42a8cf" stroke="#123846" stroke-width="0.9"/>
<polygon points="385.2,603.6 388.6,607 385.2,610.4 381.8,607" fill="#42a8cf" stroke="#123846" stroke-width="0.9"/>
<polygon points="385.2,631 388.6,634.4 385.2,637.8 381.8,634.4" fill="#42a8cf" stroke="#123846" stroke-width="0.9"/>
<line x1="397" y1="610.4" x2="408" y2="610.4" stroke="#2a2a2a" stroke-width="1" />
<line x1="399" y1="600.4" x2="406" y2="600.4" stroke="#2a2a2a" stroke-width="1" />
<line x1="399" y1="620.4" x2="406" y2="620.4" stroke="#2a2a2a" stroke-width="1" />
<line x1="402.5" y1="600.4" x2="402.5" y2="620.4" stroke="#2a2a2a" stroke-width="1" />
<polygon points="401.9,588.62 398.85,595.42 404.95,595.42" fill="#a5112d" stroke="#3c0610" stroke-width="0.9" stroke-linejoin="round"/>
<polygon points="401.9,597.62 398.85,604.42 404.95,604.42" fill="#a5112d" stroke="#3c0610" stroke-width="0.9" stroke-linejoin="round"/>
<polygon points="403,607.22 399.95,614.02 406.05,614.02" fill="#a5112d" stroke="#3c0610" stroke-width="0.9" stroke-linejoin="round"/>
<polygon points="403.8,633.62 400.75,640.42 406.85,640.42" fill="#a5112d" stroke="#3c0610" stroke-width="0.9" stroke-linejoin="round"/>
<line x1="417.2" y1="620.4" x2="428.2" y2="620.4" stroke="#2a2a2a" stroke-width="1" />
<line x1="419.2" y1="618" x2="426.2" y2="618" stroke="#2a2a2a" stroke-width="1" />
<line x1="422.7" y1="618" x2="422.7" y2="620.4" stroke="#2a2a2a" stroke-width="1" />
<polygon points="420.8,606 424.2,609.4 420.8,612.8 417.4,609.4" fill="#dba0a0" stroke="#3a1a1c" stroke-width="0.9"/>
<polygon points="423.7,618.9 427.1,622.3 423.7,625.7 420.3,622.3" fill="#dba0a0" stroke="#3a1a1c" stroke-width="0.9"/>
<polygon points="422.3,620.4 425.7,623.8 422.3,627.2 418.9,623.8" fill="#dba0a0" stroke="#3a1a1c" stroke-width="0.9"/>
<polygon points="424.2,627.2 427.6,630.6 424.2,634 420.8,630.6" fill="#dba0a0" stroke="#3a1a1c" stroke-width="0.9"/>
<line x1="353.8" y1="666.2" x2="432.7" y2="666.2" stroke="#1e1e1e" stroke-width="1.2" />
<rect x="0.55" y="0.55" width="518.9" height="682.9" fill="none" stroke="#4a4a4a" stroke-width="1.2"/>
</svg>
</body></html>
